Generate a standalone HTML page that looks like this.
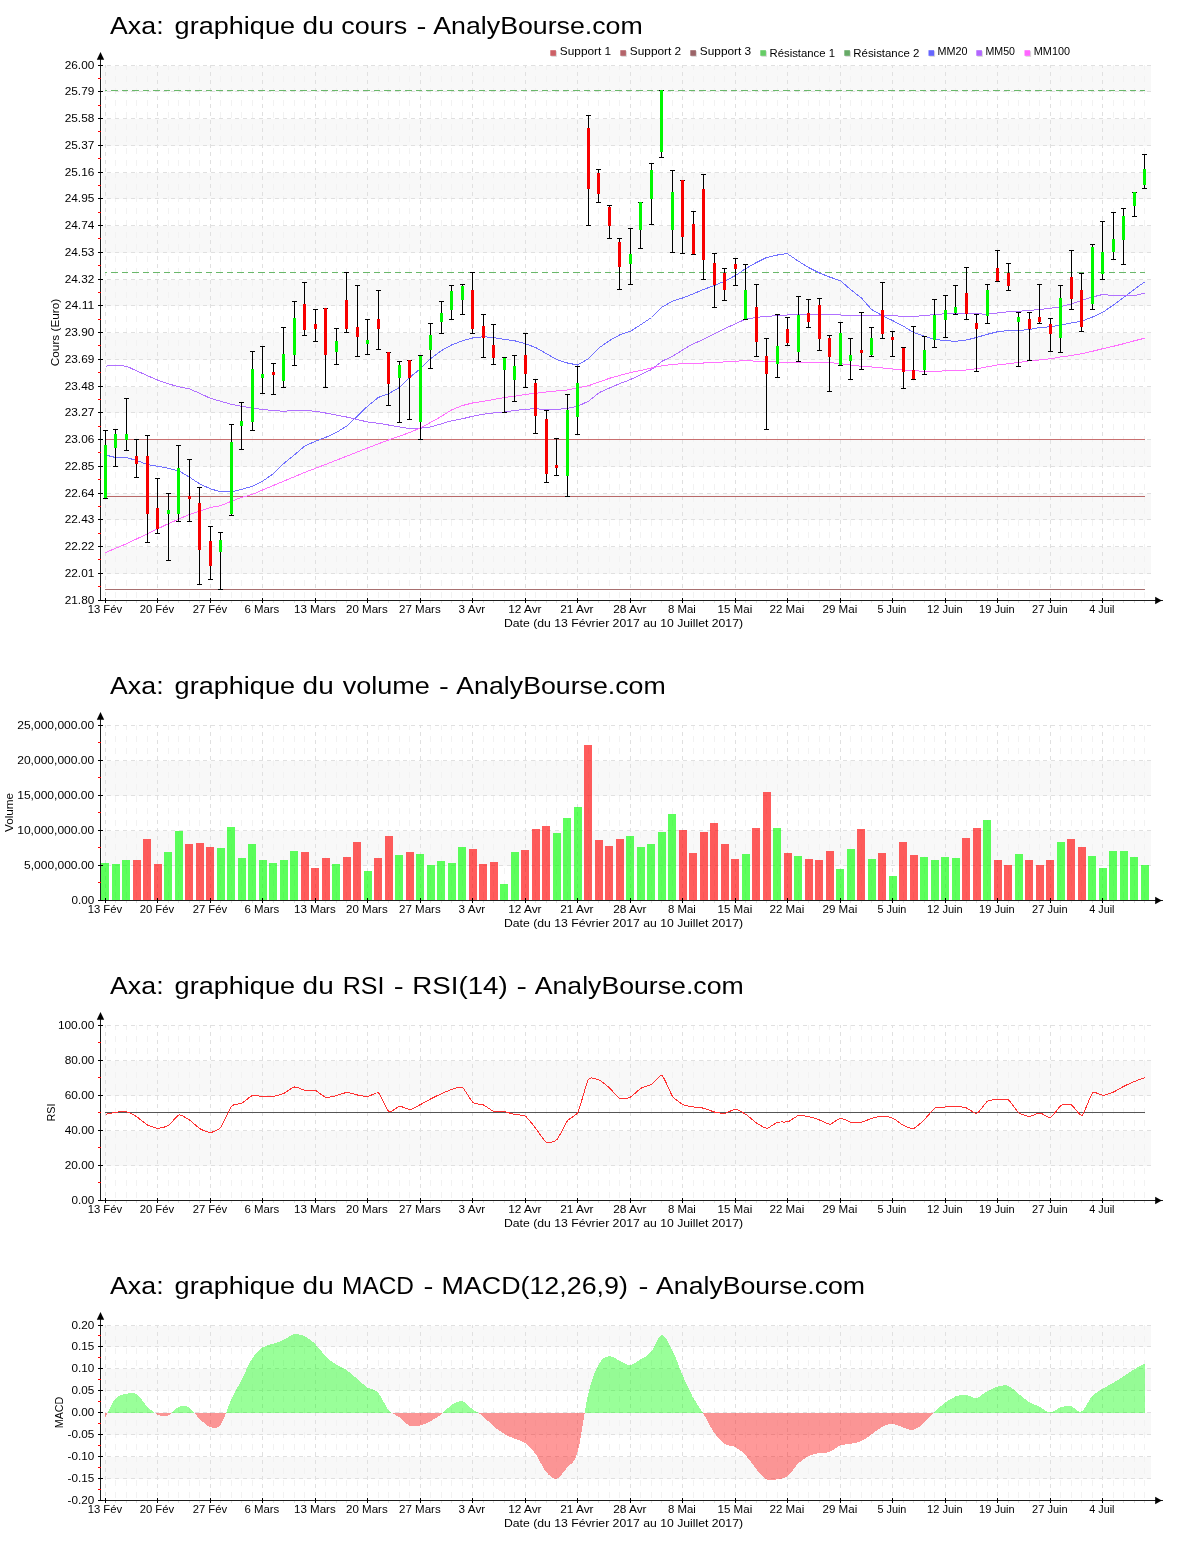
<!DOCTYPE html><html><head><meta charset="utf-8"><title>Axa</title>
<style>html,body{margin:0;padding:0;background:#fff}svg{display:block;will-change:transform}text{font-family:"Liberation Sans", sans-serif;font-size:11px;fill:#000}</style></head><body>
<svg width="1200" height="1550" viewBox="0 0 1200 1550">
<rect width="1200" height="1550" fill="#fff"/>
<text x="110.0" y="33.7" style="font-size:24.4px" textLength="53.6" lengthAdjust="spacingAndGlyphs">Axa:</text>
<text x="174.6" y="33.7" style="font-size:24.4px" textLength="120.4" lengthAdjust="spacingAndGlyphs">graphique</text>
<text x="302.6" y="33.7" style="font-size:24.4px" textLength="31.1" lengthAdjust="spacingAndGlyphs">du</text>
<text x="341.3" y="33.7" style="font-size:24.4px" textLength="65.9" lengthAdjust="spacingAndGlyphs">cours</text>
<text x="416.4" y="33.7" style="font-size:24.4px" textLength="9.9" lengthAdjust="spacingAndGlyphs">-</text>
<text x="433.3" y="33.7" style="font-size:24.4px" textLength="209.4" lengthAdjust="spacingAndGlyphs">AnalyBourse.com</text>
<rect x="102" y="66" width="1049" height="26" fill="#f8f8f8" shape-rendering="crispEdges"/>
<rect x="102" y="119" width="1049" height="27" fill="#f8f8f8" shape-rendering="crispEdges"/>
<rect x="102" y="173" width="1049" height="26" fill="#f8f8f8" shape-rendering="crispEdges"/>
<rect x="102" y="226" width="1049" height="27" fill="#f8f8f8" shape-rendering="crispEdges"/>
<rect x="102" y="280" width="1049" height="26" fill="#f8f8f8" shape-rendering="crispEdges"/>
<rect x="102" y="333" width="1049" height="27" fill="#f8f8f8" shape-rendering="crispEdges"/>
<rect x="102" y="387" width="1049" height="26" fill="#f8f8f8" shape-rendering="crispEdges"/>
<rect x="102" y="440" width="1049" height="27" fill="#f8f8f8" shape-rendering="crispEdges"/>
<rect x="102" y="494" width="1049" height="26" fill="#f8f8f8" shape-rendering="crispEdges"/>
<rect x="102" y="547" width="1049" height="27" fill="#f8f8f8" shape-rendering="crispEdges"/>
<path d="M115.5 65 V600 M126.5 65 V600 M136.5 65 V600 M147.5 65 V600 M168.5 65 V600 M178.5 65 V600 M189.5 65 V600 M199.5 65 V600 M220.5 65 V600 M231.5 65 V600 M241.5 65 V600 M252.5 65 V600 M273.5 65 V600 M283.5 65 V600 M294.5 65 V600 M304.5 65 V600 M325.5 65 V600 M336.5 65 V600 M346.5 65 V600 M357.5 65 V600 M378.5 65 V600 M388.5 65 V600 M399.5 65 V600 M409.5 65 V600 M430.5 65 V600 M441.5 65 V600 M451.5 65 V600 M462.5 65 V600 M483.5 65 V600 M493.5 65 V600 M504.5 65 V600 M514.5 65 V600 M535.5 65 V600 M546.5 65 V600 M556.5 65 V600 M567.5 65 V600 M588.5 65 V600 M598.5 65 V600 M609.5 65 V600 M619.5 65 V600 M640.5 65 V600 M651.5 65 V600 M661.5 65 V600 M672.5 65 V600 M693.5 65 V600 M703.5 65 V600 M714.5 65 V600 M724.5 65 V600 M745.5 65 V600 M756.5 65 V600 M766.5 65 V600 M777.5 65 V600 M798.5 65 V600 M808.5 65 V600 M819.5 65 V600 M829.5 65 V600 M850.5 65 V600 M861.5 65 V600 M871.5 65 V600 M882.5 65 V600 M903.5 65 V600 M913.5 65 V600 M924.5 65 V600 M934.5 65 V600 M955.5 65 V600 M966.5 65 V600 M976.5 65 V600 M987.5 65 V600 M1008.5 65 V600 M1018.5 65 V600 M1029.5 65 V600 M1039.5 65 V600 M1060.5 65 V600 M1071.5 65 V600 M1081.5 65 V600 M1092.5 65 V600 M1113.5 65 V600 M1123.5 65 V600 M1134.5 65 V600 M1144.5 65 V600" stroke="#f2f2f2" stroke-width="1" stroke-dasharray="6 6" stroke-dashoffset="1" fill="none" shape-rendering="crispEdges"/>
<path d="M105.5 65 V600 M157.5 65 V600 M210.5 65 V600 M262.5 65 V600 M315.5 65 V600 M367.5 65 V600 M420.5 65 V600 M472.5 65 V600 M525.5 65 V600 M577.5 65 V600 M630.5 65 V600 M682.5 65 V600 M735.5 65 V600 M787.5 65 V600 M840.5 65 V600 M892.5 65 V600 M945.5 65 V600 M997.5 65 V600 M1050.5 65 V600 M1102.5 65 V600" stroke="#e0e0e0" stroke-width="1" stroke-dasharray="4 4" stroke-dashoffset="1" fill="none" shape-rendering="crispEdges"/>
<path d="M103 65.5 H1151 M103 91.5 H1151 M103 118.5 H1151 M103 145.5 H1151 M103 172.5 H1151 M103 198.5 H1151 M103 225.5 H1151 M103 252.5 H1151 M103 279.5 H1151 M103 305.5 H1151 M103 332.5 H1151 M103 359.5 H1151 M103 386.5 H1151 M103 412.5 H1151 M103 439.5 H1151 M103 466.5 H1151 M103 493.5 H1151 M103 519.5 H1151 M103 546.5 H1151 M103 573.5 H1151" stroke="#e0e0e0" stroke-width="1" stroke-dasharray="4 4" stroke-dashoffset="4" fill="none" shape-rendering="crispEdges"/>
<g shape-rendering="crispEdges">
<rect x="105" y="439" width="1040" height="1" fill="#c87070"/>
<rect x="105" y="496" width="1040" height="1" fill="#b86868"/>
<rect x="105" y="589" width="1040" height="1" fill="#a87070"/>
</g>
<path d="M105 90.5 H1145" stroke="#6ab86a" stroke-width="1" stroke-dasharray="6.5 4" stroke-dashoffset="4.2" fill="none" shape-rendering="crispEdges"/>
<path d="M105 272.5 H1145" stroke="#6ab86a" stroke-width="1" stroke-dasharray="6.5 4" stroke-dashoffset="4.2" fill="none" shape-rendering="crispEdges"/>
<path d="M105.50 455.00 L115.50 457.50 L126.50 457.50 L136.50 460.50 L147.50 464.50 L157.50 466.25 L168.25 468.25 L178.50 470.75 L189.25 477.00 L199.50 483.75 L210.25 488.75 L220.50 491.75 L231.25 492.00 L241.50 489.50 L252.25 486.25 L262.50 481.25 L273.25 473.75 L283.50 463.75 L294.25 455.00 L304.50 446.25 L315.25 441.25 L325.50 437.50 L336.25 432.50 L346.50 426.25 L357.25 416.25 L367.50 406.25 L378.25 397.50 L388.50 393.75 L399.50 387.50 L409.50 377.50 L420.50 368.75 L430.50 358.75 L441.50 350.50 L451.50 345.00 L462.50 340.75 L472.50 338.00 L483.50 336.75 L493.50 337.50 L504.50 339.50 L514.50 340.75 L525.50 343.75 L535.50 347.50 L546.50 353.75 L556.50 359.50 L567.50 363.00 L577.50 365.00 L588.50 358.75 L599.50 347.50 L610.50 340.00 L619.50 335.00 L630.50 331.25 L641.00 324.50 L651.50 317.50 L662.00 307.00 L672.50 301.25 L682.50 298.00 L693.50 293.75 L703.50 289.50 L714.50 285.50 L724.50 281.25 L735.50 275.50 L745.50 268.75 L756.50 262.50 L766.50 257.50 L777.50 255.00 L787.00 253.50 L798.50 261.25 L808.50 267.50 L819.50 273.00 L829.50 277.00 L840.50 280.75 L850.50 289.50 L861.50 298.00 L871.50 309.50 L882.50 315.75 L892.50 320.50 L903.50 326.25 L913.50 332.50 L924.50 336.25 L934.50 339.25 L945.50 340.75 L955.50 341.25 L966.50 340.00 L976.50 337.50 L987.50 334.25 L997.50 331.75 L1008.50 330.50 L1018.50 330.50 L1029.50 329.50 L1039.50 327.50 L1050.50 326.75 L1060.50 325.00 L1071.50 323.00 L1081.50 321.25 L1092.50 317.00 L1102.50 312.50 L1113.50 305.00 L1123.50 297.50 L1134.50 289.25 L1144.50 282.00" stroke="#7070ff" stroke-width="1" fill="none" shape-rendering="crispEdges"/>
<path d="M105.50 366.25 L115.00 365.00 L126.50 366.25 L136.50 370.75 L147.50 375.75 L157.50 380.00 L168.25 383.75 L178.50 386.75 L189.25 388.75 L199.50 393.25 L210.25 398.25 L220.50 401.25 L231.25 404.25 L241.50 406.25 L252.25 408.00 L262.50 409.50 L273.25 410.50 L283.50 411.25 L294.25 410.50 L304.50 410.50 L315.25 411.25 L325.50 413.00 L336.25 415.00 L346.50 417.00 L357.25 419.50 L367.50 422.00 L378.25 423.25 L388.50 425.00 L399.50 427.00 L409.50 428.50 L420.50 428.25 L430.50 427.00 L441.50 423.75 L451.50 420.75 L462.50 418.75 L472.50 416.25 L483.50 414.25 L493.50 413.00 L504.50 412.00 L514.50 410.50 L525.50 409.25 L535.50 408.75 L546.50 409.50 L556.50 409.50 L567.50 408.25 L577.50 406.25 L588.50 401.25 L599.50 392.50 L610.50 387.50 L619.50 383.75 L630.50 379.50 L641.00 374.50 L651.50 369.50 L662.00 361.25 L672.50 356.25 L690.00 345.50 L703.50 339.25 L714.50 333.75 L724.50 328.75 L735.50 323.75 L745.50 319.25 L756.50 317.50 L766.50 316.25 L777.50 315.75 L787.50 315.00 L798.50 314.50 L808.50 314.25 L819.50 314.50 L829.50 314.50 L840.50 315.00 L850.50 315.50 L861.50 315.50 L871.50 315.50 L882.50 315.50 L892.50 315.75 L903.50 316.25 L913.50 316.25 L924.50 315.75 L934.50 314.50 L945.50 313.75 L955.50 313.25 L966.50 313.00 L976.50 313.75 L987.50 314.25 L997.50 313.00 L1008.50 311.75 L1018.50 311.25 L1029.50 310.50 L1039.50 309.50 L1050.50 308.25 L1060.50 306.75 L1071.50 303.75 L1081.50 300.50 L1092.50 297.00 L1102.50 294.50 L1113.50 295.50 L1123.50 295.75 L1134.50 295.50 L1144.50 293.25" stroke="#b070ff" stroke-width="1" fill="none" shape-rendering="crispEdges"/>
<path d="M105.50 552.50 L126.50 543.75 L147.50 533.75 L168.25 523.75 L189.25 514.50 L210.25 507.50 L220.50 505.75 L231.25 501.25 L241.50 497.50 L252.25 494.50 L262.50 490.00 L283.50 481.25 L304.50 472.50 L325.50 464.50 L346.50 456.25 L367.50 448.00 L388.50 440.00 L399.50 436.25 L409.50 432.50 L420.50 428.00 L430.50 422.50 L441.50 416.25 L451.50 410.00 L462.50 405.50 L472.50 403.00 L483.50 401.25 L493.50 399.50 L504.50 397.50 L514.50 396.25 L525.50 394.50 L535.50 393.25 L546.50 392.00 L556.50 391.00 L567.50 390.00 L577.50 388.00 L588.50 385.75 L599.50 381.75 L610.50 378.00 L619.50 375.50 L630.50 372.50 L641.00 370.50 L651.50 368.00 L662.00 365.75 L672.50 364.50 L683.00 363.50 L690.00 363.00 L703.50 363.00 L714.50 362.50 L735.50 361.25 L745.50 360.50 L756.50 361.25 L777.50 362.00 L798.50 362.00 L819.50 362.50 L829.50 362.50 L840.50 363.75 L850.50 365.00 L861.50 366.25 L871.50 367.00 L882.50 368.00 L892.50 369.00 L903.50 370.00 L913.50 370.75 L924.50 371.25 L934.50 371.50 L945.50 370.75 L955.50 370.25 L966.50 370.00 L976.50 368.75 L987.50 366.75 L997.50 365.00 L1008.50 363.75 L1018.50 362.50 L1029.50 360.75 L1039.50 360.00 L1050.50 358.75 L1060.50 357.00 L1071.50 355.50 L1081.50 353.75 L1092.50 351.25 L1102.50 348.75 L1113.50 346.25 L1123.50 343.75 L1134.50 340.75 L1144.50 338.25" stroke="#ff70ff" stroke-width="1" fill="none" shape-rendering="crispEdges"/>
<g shape-rendering="crispEdges">
<rect x="105" y="430" width="1" height="69" fill="#000"/>
<rect x="103" y="430" width="5" height="1" fill="#000"/>
<rect x="103" y="498" width="5" height="1" fill="#000"/>
<rect x="104" y="445" width="3" height="53" fill="#00f800"/>
<rect x="115" y="429" width="1" height="38" fill="#000"/>
<rect x="113" y="429" width="5" height="1" fill="#000"/>
<rect x="113" y="466" width="5" height="1" fill="#000"/>
<rect x="114" y="434" width="3" height="14" fill="#00f800"/>
<rect x="126" y="398" width="1" height="53" fill="#000"/>
<rect x="124" y="398" width="5" height="1" fill="#000"/>
<rect x="124" y="450" width="5" height="1" fill="#000"/>
<rect x="125" y="434" width="3" height="6" fill="#00f800"/>
<rect x="136" y="439" width="1" height="39" fill="#000"/>
<rect x="134" y="439" width="5" height="1" fill="#000"/>
<rect x="134" y="477" width="5" height="1" fill="#000"/>
<rect x="135" y="456" width="3" height="8" fill="#f80000"/>
<rect x="147" y="435" width="1" height="108" fill="#000"/>
<rect x="145" y="435" width="5" height="1" fill="#000"/>
<rect x="145" y="542" width="5" height="1" fill="#000"/>
<rect x="146" y="456" width="3" height="58" fill="#f80000"/>
<rect x="157" y="478" width="1" height="56" fill="#000"/>
<rect x="155" y="478" width="5" height="1" fill="#000"/>
<rect x="155" y="533" width="5" height="1" fill="#000"/>
<rect x="156" y="508" width="3" height="21" fill="#f80000"/>
<rect x="168" y="493" width="1" height="68" fill="#000"/>
<rect x="166" y="493" width="5" height="1" fill="#000"/>
<rect x="166" y="560" width="5" height="1" fill="#000"/>
<rect x="167" y="510" width="3" height="4" fill="#00f800"/>
<rect x="178" y="445" width="1" height="77" fill="#000"/>
<rect x="176" y="445" width="5" height="1" fill="#000"/>
<rect x="176" y="521" width="5" height="1" fill="#000"/>
<rect x="177" y="468" width="3" height="46" fill="#00f800"/>
<rect x="189" y="459" width="1" height="63" fill="#000"/>
<rect x="187" y="459" width="5" height="1" fill="#000"/>
<rect x="187" y="521" width="5" height="1" fill="#000"/>
<rect x="188" y="496" width="3" height="3" fill="#f80000"/>
<rect x="199" y="487" width="1" height="98" fill="#000"/>
<rect x="197" y="487" width="5" height="1" fill="#000"/>
<rect x="197" y="584" width="5" height="1" fill="#000"/>
<rect x="198" y="503" width="3" height="47" fill="#f80000"/>
<rect x="210" y="526" width="1" height="54" fill="#000"/>
<rect x="208" y="526" width="5" height="1" fill="#000"/>
<rect x="208" y="579" width="5" height="1" fill="#000"/>
<rect x="209" y="541" width="3" height="25" fill="#f80000"/>
<rect x="220" y="532" width="1" height="58" fill="#000"/>
<rect x="218" y="532" width="5" height="1" fill="#000"/>
<rect x="218" y="589" width="5" height="1" fill="#000"/>
<rect x="219" y="540" width="3" height="12" fill="#00f800"/>
<rect x="231" y="424" width="1" height="92" fill="#000"/>
<rect x="229" y="424" width="5" height="1" fill="#000"/>
<rect x="229" y="515" width="5" height="1" fill="#000"/>
<rect x="230" y="442" width="3" height="72" fill="#00f800"/>
<rect x="241" y="402" width="1" height="48" fill="#000"/>
<rect x="239" y="402" width="5" height="1" fill="#000"/>
<rect x="239" y="449" width="5" height="1" fill="#000"/>
<rect x="240" y="421" width="3" height="5" fill="#00f800"/>
<rect x="252" y="351" width="1" height="80" fill="#000"/>
<rect x="250" y="351" width="5" height="1" fill="#000"/>
<rect x="250" y="430" width="5" height="1" fill="#000"/>
<rect x="251" y="369" width="3" height="53" fill="#00f800"/>
<rect x="262" y="346" width="1" height="48" fill="#000"/>
<rect x="260" y="346" width="5" height="1" fill="#000"/>
<rect x="260" y="393" width="5" height="1" fill="#000"/>
<rect x="261" y="374" width="3" height="4" fill="#00f800"/>
<rect x="273" y="363" width="1" height="32" fill="#000"/>
<rect x="271" y="363" width="5" height="1" fill="#000"/>
<rect x="271" y="394" width="5" height="1" fill="#000"/>
<rect x="272" y="372" width="3" height="3" fill="#f80000"/>
<rect x="283" y="327" width="1" height="61" fill="#000"/>
<rect x="281" y="327" width="5" height="1" fill="#000"/>
<rect x="281" y="387" width="5" height="1" fill="#000"/>
<rect x="282" y="354" width="3" height="27" fill="#00f800"/>
<rect x="294" y="301" width="1" height="65" fill="#000"/>
<rect x="292" y="301" width="5" height="1" fill="#000"/>
<rect x="292" y="365" width="5" height="1" fill="#000"/>
<rect x="293" y="318" width="3" height="37" fill="#00f800"/>
<rect x="304" y="282" width="1" height="54" fill="#000"/>
<rect x="302" y="282" width="5" height="1" fill="#000"/>
<rect x="302" y="335" width="5" height="1" fill="#000"/>
<rect x="303" y="304" width="3" height="26" fill="#f80000"/>
<rect x="315" y="309" width="1" height="33" fill="#000"/>
<rect x="313" y="309" width="5" height="1" fill="#000"/>
<rect x="313" y="341" width="5" height="1" fill="#000"/>
<rect x="314" y="324" width="3" height="5" fill="#f80000"/>
<rect x="325" y="308" width="1" height="80" fill="#000"/>
<rect x="323" y="308" width="5" height="1" fill="#000"/>
<rect x="323" y="387" width="5" height="1" fill="#000"/>
<rect x="324" y="308" width="3" height="47" fill="#f80000"/>
<rect x="336" y="328" width="1" height="37" fill="#000"/>
<rect x="334" y="328" width="5" height="1" fill="#000"/>
<rect x="334" y="364" width="5" height="1" fill="#000"/>
<rect x="335" y="341" width="3" height="11" fill="#00f800"/>
<rect x="346" y="272" width="1" height="61" fill="#000"/>
<rect x="344" y="272" width="5" height="1" fill="#000"/>
<rect x="344" y="332" width="5" height="1" fill="#000"/>
<rect x="345" y="300" width="3" height="29" fill="#f80000"/>
<rect x="357" y="285" width="1" height="72" fill="#000"/>
<rect x="355" y="285" width="5" height="1" fill="#000"/>
<rect x="355" y="356" width="5" height="1" fill="#000"/>
<rect x="356" y="327" width="3" height="10" fill="#f80000"/>
<rect x="367" y="319" width="1" height="36" fill="#000"/>
<rect x="365" y="319" width="5" height="1" fill="#000"/>
<rect x="365" y="354" width="5" height="1" fill="#000"/>
<rect x="366" y="340" width="3" height="4" fill="#00f800"/>
<rect x="378" y="290" width="1" height="60" fill="#000"/>
<rect x="376" y="290" width="5" height="1" fill="#000"/>
<rect x="376" y="349" width="5" height="1" fill="#000"/>
<rect x="377" y="319" width="3" height="10" fill="#f80000"/>
<rect x="388" y="352" width="1" height="54" fill="#000"/>
<rect x="386" y="352" width="5" height="1" fill="#000"/>
<rect x="386" y="405" width="5" height="1" fill="#000"/>
<rect x="387" y="352" width="3" height="32" fill="#f80000"/>
<rect x="399" y="361" width="1" height="62" fill="#000"/>
<rect x="397" y="361" width="5" height="1" fill="#000"/>
<rect x="397" y="422" width="5" height="1" fill="#000"/>
<rect x="398" y="365" width="3" height="13" fill="#00f800"/>
<rect x="409" y="360" width="1" height="60" fill="#000"/>
<rect x="407" y="360" width="5" height="1" fill="#000"/>
<rect x="407" y="419" width="5" height="1" fill="#000"/>
<rect x="408" y="360" width="3" height="18" fill="#f80000"/>
<rect x="420" y="355" width="1" height="85" fill="#000"/>
<rect x="418" y="355" width="5" height="1" fill="#000"/>
<rect x="418" y="439" width="5" height="1" fill="#000"/>
<rect x="419" y="356" width="3" height="66" fill="#00f800"/>
<rect x="430" y="323" width="1" height="46" fill="#000"/>
<rect x="428" y="323" width="5" height="1" fill="#000"/>
<rect x="428" y="368" width="5" height="1" fill="#000"/>
<rect x="429" y="335" width="3" height="15" fill="#00f800"/>
<rect x="441" y="301" width="1" height="33" fill="#000"/>
<rect x="439" y="301" width="5" height="1" fill="#000"/>
<rect x="439" y="333" width="5" height="1" fill="#000"/>
<rect x="440" y="313" width="3" height="9" fill="#00f800"/>
<rect x="451" y="285" width="1" height="35" fill="#000"/>
<rect x="449" y="285" width="5" height="1" fill="#000"/>
<rect x="449" y="319" width="5" height="1" fill="#000"/>
<rect x="450" y="291" width="3" height="19" fill="#00f800"/>
<rect x="462" y="284" width="1" height="31" fill="#000"/>
<rect x="460" y="284" width="5" height="1" fill="#000"/>
<rect x="460" y="314" width="5" height="1" fill="#000"/>
<rect x="461" y="286" width="3" height="14" fill="#00f800"/>
<rect x="472" y="272" width="1" height="62" fill="#000"/>
<rect x="470" y="272" width="5" height="1" fill="#000"/>
<rect x="470" y="333" width="5" height="1" fill="#000"/>
<rect x="471" y="290" width="3" height="39" fill="#f80000"/>
<rect x="483" y="314" width="1" height="44" fill="#000"/>
<rect x="481" y="314" width="5" height="1" fill="#000"/>
<rect x="481" y="357" width="5" height="1" fill="#000"/>
<rect x="482" y="326" width="3" height="12" fill="#f80000"/>
<rect x="493" y="324" width="1" height="41" fill="#000"/>
<rect x="491" y="324" width="5" height="1" fill="#000"/>
<rect x="491" y="364" width="5" height="1" fill="#000"/>
<rect x="492" y="345" width="3" height="13" fill="#f80000"/>
<rect x="504" y="357" width="1" height="56" fill="#000"/>
<rect x="502" y="357" width="5" height="1" fill="#000"/>
<rect x="502" y="412" width="5" height="1" fill="#000"/>
<rect x="503" y="358" width="3" height="12" fill="#00f800"/>
<rect x="514" y="355" width="1" height="47" fill="#000"/>
<rect x="512" y="355" width="5" height="1" fill="#000"/>
<rect x="512" y="401" width="5" height="1" fill="#000"/>
<rect x="513" y="366" width="3" height="14" fill="#00f800"/>
<rect x="525" y="333" width="1" height="55" fill="#000"/>
<rect x="523" y="333" width="5" height="1" fill="#000"/>
<rect x="523" y="387" width="5" height="1" fill="#000"/>
<rect x="524" y="355" width="3" height="19" fill="#f80000"/>
<rect x="535" y="379" width="1" height="55" fill="#000"/>
<rect x="533" y="379" width="5" height="1" fill="#000"/>
<rect x="533" y="433" width="5" height="1" fill="#000"/>
<rect x="534" y="383" width="3" height="33" fill="#f80000"/>
<rect x="546" y="410" width="1" height="73" fill="#000"/>
<rect x="544" y="410" width="5" height="1" fill="#000"/>
<rect x="544" y="482" width="5" height="1" fill="#000"/>
<rect x="545" y="419" width="3" height="55" fill="#f80000"/>
<rect x="556" y="438" width="1" height="38" fill="#000"/>
<rect x="554" y="438" width="5" height="1" fill="#000"/>
<rect x="554" y="475" width="5" height="1" fill="#000"/>
<rect x="555" y="465" width="3" height="3" fill="#f80000"/>
<rect x="567" y="394" width="1" height="103" fill="#000"/>
<rect x="565" y="394" width="5" height="1" fill="#000"/>
<rect x="565" y="496" width="5" height="1" fill="#000"/>
<rect x="566" y="410" width="3" height="66" fill="#00f800"/>
<rect x="577" y="366" width="1" height="69" fill="#000"/>
<rect x="575" y="366" width="5" height="1" fill="#000"/>
<rect x="575" y="434" width="5" height="1" fill="#000"/>
<rect x="576" y="383" width="3" height="34" fill="#00f800"/>
<rect x="588" y="115" width="1" height="111" fill="#000"/>
<rect x="586" y="115" width="5" height="1" fill="#000"/>
<rect x="586" y="225" width="5" height="1" fill="#000"/>
<rect x="587" y="128" width="3" height="61" fill="#f80000"/>
<rect x="598" y="169" width="1" height="34" fill="#000"/>
<rect x="596" y="169" width="5" height="1" fill="#000"/>
<rect x="596" y="202" width="5" height="1" fill="#000"/>
<rect x="597" y="173" width="3" height="21" fill="#f80000"/>
<rect x="609" y="205" width="1" height="34" fill="#000"/>
<rect x="607" y="205" width="5" height="1" fill="#000"/>
<rect x="607" y="238" width="5" height="1" fill="#000"/>
<rect x="608" y="207" width="3" height="19" fill="#f80000"/>
<rect x="619" y="238" width="1" height="52" fill="#000"/>
<rect x="617" y="238" width="5" height="1" fill="#000"/>
<rect x="617" y="289" width="5" height="1" fill="#000"/>
<rect x="618" y="242" width="3" height="25" fill="#f80000"/>
<rect x="630" y="228" width="1" height="57" fill="#000"/>
<rect x="628" y="228" width="5" height="1" fill="#000"/>
<rect x="628" y="284" width="5" height="1" fill="#000"/>
<rect x="629" y="254" width="3" height="10" fill="#00f800"/>
<rect x="640" y="202" width="1" height="47" fill="#000"/>
<rect x="638" y="202" width="5" height="1" fill="#000"/>
<rect x="638" y="248" width="5" height="1" fill="#000"/>
<rect x="639" y="202" width="3" height="28" fill="#00f800"/>
<rect x="651" y="163" width="1" height="62" fill="#000"/>
<rect x="649" y="163" width="5" height="1" fill="#000"/>
<rect x="649" y="224" width="5" height="1" fill="#000"/>
<rect x="650" y="170" width="3" height="29" fill="#00f800"/>
<rect x="661" y="90" width="1" height="68" fill="#000"/>
<rect x="659" y="90" width="5" height="1" fill="#000"/>
<rect x="659" y="157" width="5" height="1" fill="#000"/>
<rect x="660" y="90" width="3" height="62" fill="#00f800"/>
<rect x="672" y="170" width="1" height="83" fill="#000"/>
<rect x="670" y="170" width="5" height="1" fill="#000"/>
<rect x="670" y="252" width="5" height="1" fill="#000"/>
<rect x="671" y="192" width="3" height="38" fill="#00f800"/>
<rect x="682" y="180" width="1" height="74" fill="#000"/>
<rect x="680" y="180" width="5" height="1" fill="#000"/>
<rect x="680" y="253" width="5" height="1" fill="#000"/>
<rect x="681" y="180" width="3" height="57" fill="#f80000"/>
<rect x="693" y="211" width="1" height="44" fill="#000"/>
<rect x="691" y="211" width="5" height="1" fill="#000"/>
<rect x="691" y="254" width="5" height="1" fill="#000"/>
<rect x="692" y="224" width="3" height="30" fill="#f80000"/>
<rect x="703" y="174" width="1" height="106" fill="#000"/>
<rect x="701" y="174" width="5" height="1" fill="#000"/>
<rect x="701" y="279" width="5" height="1" fill="#000"/>
<rect x="702" y="189" width="3" height="71" fill="#f80000"/>
<rect x="714" y="253" width="1" height="55" fill="#000"/>
<rect x="712" y="253" width="5" height="1" fill="#000"/>
<rect x="712" y="307" width="5" height="1" fill="#000"/>
<rect x="713" y="263" width="3" height="22" fill="#f80000"/>
<rect x="724" y="268" width="1" height="33" fill="#000"/>
<rect x="722" y="268" width="5" height="1" fill="#000"/>
<rect x="722" y="300" width="5" height="1" fill="#000"/>
<rect x="723" y="273" width="3" height="17" fill="#f80000"/>
<rect x="735" y="258" width="1" height="28" fill="#000"/>
<rect x="733" y="258" width="5" height="1" fill="#000"/>
<rect x="733" y="285" width="5" height="1" fill="#000"/>
<rect x="734" y="264" width="3" height="5" fill="#f80000"/>
<rect x="745" y="264" width="1" height="56" fill="#000"/>
<rect x="743" y="264" width="5" height="1" fill="#000"/>
<rect x="743" y="319" width="5" height="1" fill="#000"/>
<rect x="744" y="290" width="3" height="29" fill="#00f800"/>
<rect x="756" y="284" width="1" height="73" fill="#000"/>
<rect x="754" y="284" width="5" height="1" fill="#000"/>
<rect x="754" y="356" width="5" height="1" fill="#000"/>
<rect x="755" y="307" width="3" height="35" fill="#f80000"/>
<rect x="766" y="338" width="1" height="92" fill="#000"/>
<rect x="764" y="338" width="5" height="1" fill="#000"/>
<rect x="764" y="429" width="5" height="1" fill="#000"/>
<rect x="765" y="356" width="3" height="18" fill="#f80000"/>
<rect x="777" y="314" width="1" height="64" fill="#000"/>
<rect x="775" y="314" width="5" height="1" fill="#000"/>
<rect x="775" y="377" width="5" height="1" fill="#000"/>
<rect x="776" y="346" width="3" height="18" fill="#00f800"/>
<rect x="787" y="317" width="1" height="29" fill="#000"/>
<rect x="785" y="317" width="5" height="1" fill="#000"/>
<rect x="785" y="345" width="5" height="1" fill="#000"/>
<rect x="786" y="329" width="3" height="14" fill="#f80000"/>
<rect x="798" y="296" width="1" height="66" fill="#000"/>
<rect x="796" y="296" width="5" height="1" fill="#000"/>
<rect x="796" y="361" width="5" height="1" fill="#000"/>
<rect x="797" y="315" width="3" height="37" fill="#00f800"/>
<rect x="808" y="299" width="1" height="29" fill="#000"/>
<rect x="806" y="299" width="5" height="1" fill="#000"/>
<rect x="806" y="327" width="5" height="1" fill="#000"/>
<rect x="807" y="313" width="3" height="9" fill="#f80000"/>
<rect x="819" y="298" width="1" height="53" fill="#000"/>
<rect x="817" y="298" width="5" height="1" fill="#000"/>
<rect x="817" y="350" width="5" height="1" fill="#000"/>
<rect x="818" y="305" width="3" height="34" fill="#f80000"/>
<rect x="829" y="335" width="1" height="57" fill="#000"/>
<rect x="827" y="335" width="5" height="1" fill="#000"/>
<rect x="827" y="391" width="5" height="1" fill="#000"/>
<rect x="828" y="338" width="3" height="19" fill="#f80000"/>
<rect x="840" y="322" width="1" height="44" fill="#000"/>
<rect x="838" y="322" width="5" height="1" fill="#000"/>
<rect x="838" y="365" width="5" height="1" fill="#000"/>
<rect x="839" y="333" width="3" height="32" fill="#00f800"/>
<rect x="850" y="338" width="1" height="42" fill="#000"/>
<rect x="848" y="338" width="5" height="1" fill="#000"/>
<rect x="848" y="379" width="5" height="1" fill="#000"/>
<rect x="849" y="355" width="3" height="6" fill="#00f800"/>
<rect x="861" y="312" width="1" height="58" fill="#000"/>
<rect x="859" y="312" width="5" height="1" fill="#000"/>
<rect x="859" y="369" width="5" height="1" fill="#000"/>
<rect x="860" y="350" width="3" height="3" fill="#f80000"/>
<rect x="871" y="327" width="1" height="30" fill="#000"/>
<rect x="869" y="327" width="5" height="1" fill="#000"/>
<rect x="869" y="356" width="5" height="1" fill="#000"/>
<rect x="870" y="338" width="3" height="17" fill="#00f800"/>
<rect x="882" y="282" width="1" height="57" fill="#000"/>
<rect x="880" y="282" width="5" height="1" fill="#000"/>
<rect x="880" y="338" width="5" height="1" fill="#000"/>
<rect x="881" y="310" width="3" height="24" fill="#f80000"/>
<rect x="892" y="331" width="1" height="26" fill="#000"/>
<rect x="890" y="331" width="5" height="1" fill="#000"/>
<rect x="890" y="356" width="5" height="1" fill="#000"/>
<rect x="891" y="337" width="3" height="3" fill="#f80000"/>
<rect x="903" y="347" width="1" height="42" fill="#000"/>
<rect x="901" y="347" width="5" height="1" fill="#000"/>
<rect x="901" y="388" width="5" height="1" fill="#000"/>
<rect x="902" y="348" width="3" height="24" fill="#f80000"/>
<rect x="913" y="326" width="1" height="54" fill="#000"/>
<rect x="911" y="326" width="5" height="1" fill="#000"/>
<rect x="911" y="379" width="5" height="1" fill="#000"/>
<rect x="912" y="370" width="3" height="9" fill="#f80000"/>
<rect x="924" y="336" width="1" height="39" fill="#000"/>
<rect x="922" y="336" width="5" height="1" fill="#000"/>
<rect x="922" y="374" width="5" height="1" fill="#000"/>
<rect x="923" y="350" width="3" height="20" fill="#00f800"/>
<rect x="934" y="299" width="1" height="49" fill="#000"/>
<rect x="932" y="299" width="5" height="1" fill="#000"/>
<rect x="932" y="347" width="5" height="1" fill="#000"/>
<rect x="933" y="315" width="3" height="25" fill="#00f800"/>
<rect x="945" y="295" width="1" height="43" fill="#000"/>
<rect x="943" y="295" width="5" height="1" fill="#000"/>
<rect x="943" y="337" width="5" height="1" fill="#000"/>
<rect x="944" y="310" width="3" height="10" fill="#00f800"/>
<rect x="955" y="285" width="1" height="30" fill="#000"/>
<rect x="953" y="285" width="5" height="1" fill="#000"/>
<rect x="953" y="314" width="5" height="1" fill="#000"/>
<rect x="954" y="307" width="3" height="6" fill="#00f800"/>
<rect x="966" y="267" width="1" height="53" fill="#000"/>
<rect x="964" y="267" width="5" height="1" fill="#000"/>
<rect x="964" y="319" width="5" height="1" fill="#000"/>
<rect x="965" y="293" width="3" height="21" fill="#f80000"/>
<rect x="976" y="314" width="1" height="58" fill="#000"/>
<rect x="974" y="314" width="5" height="1" fill="#000"/>
<rect x="974" y="371" width="5" height="1" fill="#000"/>
<rect x="975" y="323" width="3" height="6" fill="#f80000"/>
<rect x="987" y="284" width="1" height="40" fill="#000"/>
<rect x="985" y="284" width="5" height="1" fill="#000"/>
<rect x="985" y="323" width="5" height="1" fill="#000"/>
<rect x="986" y="290" width="3" height="26" fill="#00f800"/>
<rect x="997" y="250" width="1" height="32" fill="#000"/>
<rect x="995" y="250" width="5" height="1" fill="#000"/>
<rect x="995" y="281" width="5" height="1" fill="#000"/>
<rect x="996" y="268" width="3" height="13" fill="#f80000"/>
<rect x="1008" y="263" width="1" height="28" fill="#000"/>
<rect x="1006" y="263" width="5" height="1" fill="#000"/>
<rect x="1006" y="290" width="5" height="1" fill="#000"/>
<rect x="1007" y="273" width="3" height="13" fill="#f80000"/>
<rect x="1018" y="312" width="1" height="55" fill="#000"/>
<rect x="1016" y="312" width="5" height="1" fill="#000"/>
<rect x="1016" y="366" width="5" height="1" fill="#000"/>
<rect x="1017" y="317" width="3" height="5" fill="#00f800"/>
<rect x="1029" y="312" width="1" height="49" fill="#000"/>
<rect x="1027" y="312" width="5" height="1" fill="#000"/>
<rect x="1027" y="360" width="5" height="1" fill="#000"/>
<rect x="1028" y="319" width="3" height="10" fill="#f80000"/>
<rect x="1039" y="284" width="1" height="40" fill="#000"/>
<rect x="1037" y="284" width="5" height="1" fill="#000"/>
<rect x="1037" y="323" width="5" height="1" fill="#000"/>
<rect x="1038" y="317" width="3" height="5" fill="#f80000"/>
<rect x="1050" y="318" width="1" height="34" fill="#000"/>
<rect x="1048" y="318" width="5" height="1" fill="#000"/>
<rect x="1048" y="351" width="5" height="1" fill="#000"/>
<rect x="1049" y="324" width="3" height="10" fill="#f80000"/>
<rect x="1060" y="285" width="1" height="68" fill="#000"/>
<rect x="1058" y="285" width="5" height="1" fill="#000"/>
<rect x="1058" y="352" width="5" height="1" fill="#000"/>
<rect x="1059" y="298" width="3" height="40" fill="#00f800"/>
<rect x="1071" y="250" width="1" height="60" fill="#000"/>
<rect x="1069" y="250" width="5" height="1" fill="#000"/>
<rect x="1069" y="309" width="5" height="1" fill="#000"/>
<rect x="1070" y="277" width="3" height="22" fill="#f80000"/>
<rect x="1081" y="273" width="1" height="59" fill="#000"/>
<rect x="1079" y="273" width="5" height="1" fill="#000"/>
<rect x="1079" y="331" width="5" height="1" fill="#000"/>
<rect x="1080" y="290" width="3" height="37" fill="#f80000"/>
<rect x="1092" y="244" width="1" height="66" fill="#000"/>
<rect x="1090" y="244" width="5" height="1" fill="#000"/>
<rect x="1090" y="309" width="5" height="1" fill="#000"/>
<rect x="1091" y="247" width="3" height="57" fill="#00f800"/>
<rect x="1102" y="221" width="1" height="59" fill="#000"/>
<rect x="1100" y="221" width="5" height="1" fill="#000"/>
<rect x="1100" y="279" width="5" height="1" fill="#000"/>
<rect x="1101" y="252" width="3" height="22" fill="#00f800"/>
<rect x="1113" y="212" width="1" height="48" fill="#000"/>
<rect x="1111" y="212" width="5" height="1" fill="#000"/>
<rect x="1111" y="259" width="5" height="1" fill="#000"/>
<rect x="1112" y="239" width="3" height="13" fill="#00f800"/>
<rect x="1123" y="208" width="1" height="57" fill="#000"/>
<rect x="1121" y="208" width="5" height="1" fill="#000"/>
<rect x="1121" y="264" width="5" height="1" fill="#000"/>
<rect x="1122" y="216" width="3" height="24" fill="#00f800"/>
<rect x="1134" y="192" width="1" height="25" fill="#000"/>
<rect x="1132" y="192" width="5" height="1" fill="#000"/>
<rect x="1132" y="216" width="5" height="1" fill="#000"/>
<rect x="1133" y="192" width="3" height="14" fill="#00f800"/>
<rect x="1144" y="154" width="1" height="35" fill="#000"/>
<rect x="1142" y="154" width="5" height="1" fill="#000"/>
<rect x="1142" y="188" width="5" height="1" fill="#000"/>
<rect x="1143" y="169" width="3" height="16" fill="#00f800"/>
</g>
<g shape-rendering="crispEdges" fill="#000">
<rect x="100" y="55" width="1" height="546" fill="#1c1c1c"/>
<rect x="100" y="600" width="1063" height="1" fill="#1c1c1c"/>
<rect x="98" y="65" width="5" height="1"/>
<rect x="98" y="91" width="5" height="1"/>
<rect x="98" y="118" width="5" height="1"/>
<rect x="98" y="145" width="5" height="1"/>
<rect x="98" y="172" width="5" height="1"/>
<rect x="98" y="198" width="5" height="1"/>
<rect x="98" y="225" width="5" height="1"/>
<rect x="98" y="252" width="5" height="1"/>
<rect x="98" y="279" width="5" height="1"/>
<rect x="98" y="305" width="5" height="1"/>
<rect x="98" y="332" width="5" height="1"/>
<rect x="98" y="359" width="5" height="1"/>
<rect x="98" y="386" width="5" height="1"/>
<rect x="98" y="412" width="5" height="1"/>
<rect x="98" y="439" width="5" height="1"/>
<rect x="98" y="466" width="5" height="1"/>
<rect x="98" y="493" width="5" height="1"/>
<rect x="98" y="519" width="5" height="1"/>
<rect x="98" y="546" width="5" height="1"/>
<rect x="98" y="573" width="5" height="1"/>
<rect x="98" y="600" width="5" height="1"/>
<rect x="98" y="78" width="3" height="1" fill="#f00"/>
<rect x="98" y="105" width="3" height="1" fill="#f00"/>
<rect x="98" y="131" width="3" height="1" fill="#f00"/>
<rect x="98" y="158" width="3" height="1" fill="#f00"/>
<rect x="98" y="185" width="3" height="1" fill="#f00"/>
<rect x="98" y="212" width="3" height="1" fill="#f00"/>
<rect x="98" y="238" width="3" height="1" fill="#f00"/>
<rect x="98" y="265" width="3" height="1" fill="#f00"/>
<rect x="98" y="292" width="3" height="1" fill="#f00"/>
<rect x="98" y="319" width="3" height="1" fill="#f00"/>
<rect x="98" y="345" width="3" height="1" fill="#f00"/>
<rect x="98" y="372" width="3" height="1" fill="#f00"/>
<rect x="98" y="399" width="3" height="1" fill="#f00"/>
<rect x="98" y="426" width="3" height="1" fill="#f00"/>
<rect x="98" y="452" width="3" height="1" fill="#f00"/>
<rect x="98" y="479" width="3" height="1" fill="#f00"/>
<rect x="98" y="506" width="3" height="1" fill="#f00"/>
<rect x="98" y="533" width="3" height="1" fill="#f00"/>
<rect x="98" y="559" width="3" height="1" fill="#f00"/>
<rect x="98" y="586" width="3" height="1" fill="#f00"/>
<rect x="105" y="598" width="1" height="5"/>
<rect x="115" y="601" width="1" height="2" fill="#ddd"/>
<rect x="126" y="601" width="1" height="2" fill="#ddd"/>
<rect x="136" y="601" width="1" height="2" fill="#ddd"/>
<rect x="147" y="601" width="1" height="2" fill="#ddd"/>
<rect x="157" y="598" width="1" height="5"/>
<rect x="168" y="601" width="1" height="2" fill="#ddd"/>
<rect x="178" y="601" width="1" height="2" fill="#ddd"/>
<rect x="189" y="601" width="1" height="2" fill="#ddd"/>
<rect x="199" y="601" width="1" height="2" fill="#ddd"/>
<rect x="210" y="598" width="1" height="5"/>
<rect x="220" y="601" width="1" height="2" fill="#ddd"/>
<rect x="231" y="601" width="1" height="2" fill="#ddd"/>
<rect x="241" y="601" width="1" height="2" fill="#ddd"/>
<rect x="252" y="601" width="1" height="2" fill="#ddd"/>
<rect x="262" y="598" width="1" height="5"/>
<rect x="273" y="601" width="1" height="2" fill="#ddd"/>
<rect x="283" y="601" width="1" height="2" fill="#ddd"/>
<rect x="294" y="601" width="1" height="2" fill="#ddd"/>
<rect x="304" y="601" width="1" height="2" fill="#ddd"/>
<rect x="315" y="598" width="1" height="5"/>
<rect x="325" y="601" width="1" height="2" fill="#ddd"/>
<rect x="336" y="601" width="1" height="2" fill="#ddd"/>
<rect x="346" y="601" width="1" height="2" fill="#ddd"/>
<rect x="357" y="601" width="1" height="2" fill="#ddd"/>
<rect x="367" y="598" width="1" height="5"/>
<rect x="378" y="601" width="1" height="2" fill="#ddd"/>
<rect x="388" y="601" width="1" height="2" fill="#ddd"/>
<rect x="399" y="601" width="1" height="2" fill="#ddd"/>
<rect x="409" y="601" width="1" height="2" fill="#ddd"/>
<rect x="420" y="598" width="1" height="5"/>
<rect x="430" y="601" width="1" height="2" fill="#ddd"/>
<rect x="441" y="601" width="1" height="2" fill="#ddd"/>
<rect x="451" y="601" width="1" height="2" fill="#ddd"/>
<rect x="462" y="601" width="1" height="2" fill="#ddd"/>
<rect x="472" y="598" width="1" height="5"/>
<rect x="483" y="601" width="1" height="2" fill="#ddd"/>
<rect x="493" y="601" width="1" height="2" fill="#ddd"/>
<rect x="504" y="601" width="1" height="2" fill="#ddd"/>
<rect x="514" y="601" width="1" height="2" fill="#ddd"/>
<rect x="525" y="598" width="1" height="5"/>
<rect x="535" y="601" width="1" height="2" fill="#ddd"/>
<rect x="546" y="601" width="1" height="2" fill="#ddd"/>
<rect x="556" y="601" width="1" height="2" fill="#ddd"/>
<rect x="567" y="601" width="1" height="2" fill="#ddd"/>
<rect x="577" y="598" width="1" height="5"/>
<rect x="588" y="601" width="1" height="2" fill="#ddd"/>
<rect x="598" y="601" width="1" height="2" fill="#ddd"/>
<rect x="609" y="601" width="1" height="2" fill="#ddd"/>
<rect x="619" y="601" width="1" height="2" fill="#ddd"/>
<rect x="630" y="598" width="1" height="5"/>
<rect x="640" y="601" width="1" height="2" fill="#ddd"/>
<rect x="651" y="601" width="1" height="2" fill="#ddd"/>
<rect x="661" y="601" width="1" height="2" fill="#ddd"/>
<rect x="672" y="601" width="1" height="2" fill="#ddd"/>
<rect x="682" y="598" width="1" height="5"/>
<rect x="693" y="601" width="1" height="2" fill="#ddd"/>
<rect x="703" y="601" width="1" height="2" fill="#ddd"/>
<rect x="714" y="601" width="1" height="2" fill="#ddd"/>
<rect x="724" y="601" width="1" height="2" fill="#ddd"/>
<rect x="735" y="598" width="1" height="5"/>
<rect x="745" y="601" width="1" height="2" fill="#ddd"/>
<rect x="756" y="601" width="1" height="2" fill="#ddd"/>
<rect x="766" y="601" width="1" height="2" fill="#ddd"/>
<rect x="777" y="601" width="1" height="2" fill="#ddd"/>
<rect x="787" y="598" width="1" height="5"/>
<rect x="798" y="601" width="1" height="2" fill="#ddd"/>
<rect x="808" y="601" width="1" height="2" fill="#ddd"/>
<rect x="819" y="601" width="1" height="2" fill="#ddd"/>
<rect x="829" y="601" width="1" height="2" fill="#ddd"/>
<rect x="840" y="598" width="1" height="5"/>
<rect x="850" y="601" width="1" height="2" fill="#ddd"/>
<rect x="861" y="601" width="1" height="2" fill="#ddd"/>
<rect x="871" y="601" width="1" height="2" fill="#ddd"/>
<rect x="882" y="601" width="1" height="2" fill="#ddd"/>
<rect x="892" y="598" width="1" height="5"/>
<rect x="903" y="601" width="1" height="2" fill="#ddd"/>
<rect x="913" y="601" width="1" height="2" fill="#ddd"/>
<rect x="924" y="601" width="1" height="2" fill="#ddd"/>
<rect x="934" y="601" width="1" height="2" fill="#ddd"/>
<rect x="945" y="598" width="1" height="5"/>
<rect x="955" y="601" width="1" height="2" fill="#ddd"/>
<rect x="966" y="601" width="1" height="2" fill="#ddd"/>
<rect x="976" y="601" width="1" height="2" fill="#ddd"/>
<rect x="987" y="601" width="1" height="2" fill="#ddd"/>
<rect x="997" y="598" width="1" height="5"/>
<rect x="1008" y="601" width="1" height="2" fill="#ddd"/>
<rect x="1018" y="601" width="1" height="2" fill="#ddd"/>
<rect x="1029" y="601" width="1" height="2" fill="#ddd"/>
<rect x="1039" y="601" width="1" height="2" fill="#ddd"/>
<rect x="1050" y="598" width="1" height="5"/>
<rect x="1060" y="601" width="1" height="2" fill="#ddd"/>
<rect x="1071" y="601" width="1" height="2" fill="#ddd"/>
<rect x="1081" y="601" width="1" height="2" fill="#ddd"/>
<rect x="1092" y="601" width="1" height="2" fill="#ddd"/>
<rect x="1102" y="598" width="1" height="5"/>
<rect x="1113" y="601" width="1" height="2" fill="#ddd"/>
<rect x="1123" y="601" width="1" height="2" fill="#ddd"/>
<rect x="1134" y="601" width="1" height="2" fill="#ddd"/>
<rect x="1144" y="601" width="1" height="2" fill="#ddd"/>
</g>
<path d="M100.5 52 L104.2 59.7 H96.8Z" fill="#000"/>
<path d="M1161.8 600.5 L1155.2 596.8 V604.2Z" fill="#000"/>
<text x="94.3" y="68.7" text-anchor="end" textLength="29.6" lengthAdjust="spacingAndGlyphs">26.00</text>
<text x="94.3" y="94.7" text-anchor="end" textLength="29.6" lengthAdjust="spacingAndGlyphs">25.79</text>
<text x="94.3" y="121.7" text-anchor="end" textLength="29.6" lengthAdjust="spacingAndGlyphs">25.58</text>
<text x="94.3" y="148.7" text-anchor="end" textLength="29.6" lengthAdjust="spacingAndGlyphs">25.37</text>
<text x="94.3" y="175.7" text-anchor="end" textLength="29.6" lengthAdjust="spacingAndGlyphs">25.16</text>
<text x="94.3" y="201.7" text-anchor="end" textLength="29.6" lengthAdjust="spacingAndGlyphs">24.95</text>
<text x="94.3" y="228.7" text-anchor="end" textLength="29.6" lengthAdjust="spacingAndGlyphs">24.74</text>
<text x="94.3" y="255.7" text-anchor="end" textLength="29.6" lengthAdjust="spacingAndGlyphs">24.53</text>
<text x="94.3" y="282.7" text-anchor="end" textLength="29.6" lengthAdjust="spacingAndGlyphs">24.32</text>
<text x="94.3" y="308.7" text-anchor="end" textLength="29.6" lengthAdjust="spacingAndGlyphs">24.11</text>
<text x="94.3" y="335.7" text-anchor="end" textLength="29.6" lengthAdjust="spacingAndGlyphs">23.90</text>
<text x="94.3" y="362.7" text-anchor="end" textLength="29.6" lengthAdjust="spacingAndGlyphs">23.69</text>
<text x="94.3" y="389.7" text-anchor="end" textLength="29.6" lengthAdjust="spacingAndGlyphs">23.48</text>
<text x="94.3" y="415.7" text-anchor="end" textLength="29.6" lengthAdjust="spacingAndGlyphs">23.27</text>
<text x="94.3" y="442.7" text-anchor="end" textLength="29.6" lengthAdjust="spacingAndGlyphs">23.06</text>
<text x="94.3" y="469.7" text-anchor="end" textLength="29.6" lengthAdjust="spacingAndGlyphs">22.85</text>
<text x="94.3" y="496.7" text-anchor="end" textLength="29.6" lengthAdjust="spacingAndGlyphs">22.64</text>
<text x="94.3" y="522.7" text-anchor="end" textLength="29.6" lengthAdjust="spacingAndGlyphs">22.43</text>
<text x="94.3" y="549.7" text-anchor="end" textLength="29.6" lengthAdjust="spacingAndGlyphs">22.22</text>
<text x="94.3" y="576.7" text-anchor="end" textLength="29.6" lengthAdjust="spacingAndGlyphs">22.01</text>
<text x="94.3" y="603.7" text-anchor="end" textLength="29.6" lengthAdjust="spacingAndGlyphs">21.80</text>
<text x="104.9" y="613.2" text-anchor="middle" textLength="34.5" lengthAdjust="spacingAndGlyphs">13 Fév</text>
<text x="156.9" y="613.2" text-anchor="middle" textLength="34.5" lengthAdjust="spacingAndGlyphs">20 Fév</text>
<text x="209.9" y="613.2" text-anchor="middle" textLength="34.5" lengthAdjust="spacingAndGlyphs">27 Fév</text>
<text x="261.9" y="613.2" text-anchor="middle" textLength="34.9" lengthAdjust="spacingAndGlyphs">6 Mars</text>
<text x="314.9" y="613.2" text-anchor="middle" textLength="41.7" lengthAdjust="spacingAndGlyphs">13 Mars</text>
<text x="366.9" y="613.2" text-anchor="middle" textLength="41.7" lengthAdjust="spacingAndGlyphs">20 Mars</text>
<text x="419.9" y="613.2" text-anchor="middle" textLength="41.7" lengthAdjust="spacingAndGlyphs">27 Mars</text>
<text x="471.9" y="613.2" text-anchor="middle" textLength="26.6" lengthAdjust="spacingAndGlyphs">3 Avr</text>
<text x="524.9" y="613.2" text-anchor="middle" textLength="33.4" lengthAdjust="spacingAndGlyphs">12 Avr</text>
<text x="576.9" y="613.2" text-anchor="middle" textLength="33.4" lengthAdjust="spacingAndGlyphs">21 Avr</text>
<text x="629.9" y="613.2" text-anchor="middle" textLength="33.4" lengthAdjust="spacingAndGlyphs">28 Avr</text>
<text x="681.9" y="613.2" text-anchor="middle" textLength="27.9" lengthAdjust="spacingAndGlyphs">8 Mai</text>
<text x="734.9" y="613.2" text-anchor="middle" textLength="34.7" lengthAdjust="spacingAndGlyphs">15 Mai</text>
<text x="786.9" y="613.2" text-anchor="middle" textLength="34.7" lengthAdjust="spacingAndGlyphs">22 Mai</text>
<text x="839.9" y="613.2" text-anchor="middle" textLength="34.7" lengthAdjust="spacingAndGlyphs">29 Mai</text>
<text x="891.9" y="613.2" text-anchor="middle" textLength="28.9" lengthAdjust="spacingAndGlyphs">5 Juin</text>
<text x="944.9" y="613.2" text-anchor="middle" textLength="35.6" lengthAdjust="spacingAndGlyphs">12 Juin</text>
<text x="996.9" y="613.2" text-anchor="middle" textLength="35.6" lengthAdjust="spacingAndGlyphs">19 Juin</text>
<text x="1049.9" y="613.2" text-anchor="middle" textLength="35.6" lengthAdjust="spacingAndGlyphs">27 Juin</text>
<text x="1101.9" y="613.2" text-anchor="middle" textLength="25.1" lengthAdjust="spacingAndGlyphs">4 Juil</text>
<text x="623.5" y="626.5" text-anchor="middle" textLength="239" lengthAdjust="spacingAndGlyphs">Date (du 13 Février 2017 au 10 Juillet 2017)</text>
<text transform="translate(59.0 332.5) rotate(-90)" text-anchor="middle" textLength="67.5" lengthAdjust="spacingAndGlyphs">Cours (Euro)</text>
<text x="110.0" y="693.7" style="font-size:24.4px" textLength="53.6" lengthAdjust="spacingAndGlyphs">Axa:</text>
<text x="174.6" y="693.7" style="font-size:24.4px" textLength="120.4" lengthAdjust="spacingAndGlyphs">graphique</text>
<text x="302.6" y="693.7" style="font-size:24.4px" textLength="31.1" lengthAdjust="spacingAndGlyphs">du</text>
<text x="342.7" y="693.7" style="font-size:24.4px" textLength="87.2" lengthAdjust="spacingAndGlyphs">volume</text>
<text x="439.1" y="693.7" style="font-size:24.4px" textLength="9.8" lengthAdjust="spacingAndGlyphs">-</text>
<text x="456.3" y="693.7" style="font-size:24.4px" textLength="209.4" lengthAdjust="spacingAndGlyphs">AnalyBourse.com</text>
<rect x="102" y="761" width="1049" height="35" fill="#f8f8f8" shape-rendering="crispEdges"/>
<rect x="102" y="831" width="1049" height="35" fill="#f8f8f8" shape-rendering="crispEdges"/>
<path d="M115.5 725 V900 M126.5 725 V900 M136.5 725 V900 M147.5 725 V900 M168.5 725 V900 M178.5 725 V900 M189.5 725 V900 M199.5 725 V900 M220.5 725 V900 M231.5 725 V900 M241.5 725 V900 M252.5 725 V900 M273.5 725 V900 M283.5 725 V900 M294.5 725 V900 M304.5 725 V900 M325.5 725 V900 M336.5 725 V900 M346.5 725 V900 M357.5 725 V900 M378.5 725 V900 M388.5 725 V900 M399.5 725 V900 M409.5 725 V900 M430.5 725 V900 M441.5 725 V900 M451.5 725 V900 M462.5 725 V900 M483.5 725 V900 M493.5 725 V900 M504.5 725 V900 M514.5 725 V900 M535.5 725 V900 M546.5 725 V900 M556.5 725 V900 M567.5 725 V900 M588.5 725 V900 M598.5 725 V900 M609.5 725 V900 M619.5 725 V900 M640.5 725 V900 M651.5 725 V900 M661.5 725 V900 M672.5 725 V900 M693.5 725 V900 M703.5 725 V900 M714.5 725 V900 M724.5 725 V900 M745.5 725 V900 M756.5 725 V900 M766.5 725 V900 M777.5 725 V900 M798.5 725 V900 M808.5 725 V900 M819.5 725 V900 M829.5 725 V900 M850.5 725 V900 M861.5 725 V900 M871.5 725 V900 M882.5 725 V900 M903.5 725 V900 M913.5 725 V900 M924.5 725 V900 M934.5 725 V900 M955.5 725 V900 M966.5 725 V900 M976.5 725 V900 M987.5 725 V900 M1008.5 725 V900 M1018.5 725 V900 M1029.5 725 V900 M1039.5 725 V900 M1060.5 725 V900 M1071.5 725 V900 M1081.5 725 V900 M1092.5 725 V900 M1113.5 725 V900 M1123.5 725 V900 M1134.5 725 V900 M1144.5 725 V900" stroke="#f2f2f2" stroke-width="1" stroke-dasharray="6 6" stroke-dashoffset="1" fill="none" shape-rendering="crispEdges"/>
<path d="M105.5 725 V900 M157.5 725 V900 M210.5 725 V900 M262.5 725 V900 M315.5 725 V900 M367.5 725 V900 M420.5 725 V900 M472.5 725 V900 M525.5 725 V900 M577.5 725 V900 M630.5 725 V900 M682.5 725 V900 M735.5 725 V900 M787.5 725 V900 M840.5 725 V900 M892.5 725 V900 M945.5 725 V900 M997.5 725 V900 M1050.5 725 V900 M1102.5 725 V900" stroke="#e0e0e0" stroke-width="1" stroke-dasharray="4 4" stroke-dashoffset="1" fill="none" shape-rendering="crispEdges"/>
<path d="M103 725.5 H1151 M103 760.5 H1151 M103 795.5 H1151 M103 830.5 H1151 M103 865.5 H1151" stroke="#e0e0e0" stroke-width="1" stroke-dasharray="4 4" stroke-dashoffset="4" fill="none" shape-rendering="crispEdges"/>
<g shape-rendering="crispEdges">
<rect x="101" y="863" width="8" height="37" fill="rgba(0,255,0,0.64)"/>
<rect x="112" y="864" width="8" height="36" fill="rgba(0,255,0,0.64)"/>
<rect x="122" y="860" width="8" height="40" fill="rgba(0,255,0,0.64)"/>
<rect x="133" y="860" width="8" height="40" fill="rgba(255,0,0,0.64)"/>
<rect x="143" y="839" width="8" height="61" fill="rgba(255,0,0,0.64)"/>
<rect x="154" y="864" width="8" height="36" fill="rgba(255,0,0,0.64)"/>
<rect x="164" y="852" width="8" height="48" fill="rgba(0,255,0,0.64)"/>
<rect x="175" y="831" width="8" height="69" fill="rgba(0,255,0,0.64)"/>
<rect x="185" y="844" width="8" height="56" fill="rgba(255,0,0,0.64)"/>
<rect x="196" y="843" width="8" height="57" fill="rgba(255,0,0,0.64)"/>
<rect x="206" y="847" width="8" height="53" fill="rgba(255,0,0,0.64)"/>
<rect x="217" y="848" width="8" height="52" fill="rgba(0,255,0,0.64)"/>
<rect x="227" y="827" width="8" height="73" fill="rgba(0,255,0,0.64)"/>
<rect x="238" y="858" width="8" height="42" fill="rgba(0,255,0,0.64)"/>
<rect x="248" y="844" width="8" height="56" fill="rgba(0,255,0,0.64)"/>
<rect x="259" y="860" width="8" height="40" fill="rgba(0,255,0,0.64)"/>
<rect x="269" y="863" width="8" height="37" fill="rgba(0,255,0,0.64)"/>
<rect x="280" y="860" width="8" height="40" fill="rgba(0,255,0,0.64)"/>
<rect x="290" y="851" width="8" height="49" fill="rgba(0,255,0,0.64)"/>
<rect x="301" y="852" width="8" height="48" fill="rgba(255,0,0,0.64)"/>
<rect x="311" y="868" width="8" height="32" fill="rgba(255,0,0,0.64)"/>
<rect x="322" y="858" width="8" height="42" fill="rgba(255,0,0,0.64)"/>
<rect x="332" y="864" width="8" height="36" fill="rgba(0,255,0,0.64)"/>
<rect x="343" y="857" width="8" height="43" fill="rgba(255,0,0,0.64)"/>
<rect x="353" y="842" width="8" height="58" fill="rgba(255,0,0,0.64)"/>
<rect x="364" y="871" width="8" height="29" fill="rgba(0,255,0,0.64)"/>
<rect x="374" y="858" width="8" height="42" fill="rgba(255,0,0,0.64)"/>
<rect x="385" y="836" width="8" height="64" fill="rgba(255,0,0,0.64)"/>
<rect x="395" y="855" width="8" height="45" fill="rgba(0,255,0,0.64)"/>
<rect x="406" y="852" width="8" height="48" fill="rgba(255,0,0,0.64)"/>
<rect x="416" y="854" width="8" height="46" fill="rgba(0,255,0,0.64)"/>
<rect x="427" y="865" width="8" height="35" fill="rgba(0,255,0,0.64)"/>
<rect x="437" y="861" width="8" height="39" fill="rgba(0,255,0,0.64)"/>
<rect x="448" y="863" width="8" height="37" fill="rgba(0,255,0,0.64)"/>
<rect x="458" y="847" width="8" height="53" fill="rgba(0,255,0,0.64)"/>
<rect x="469" y="849" width="8" height="51" fill="rgba(255,0,0,0.64)"/>
<rect x="479" y="864" width="8" height="36" fill="rgba(255,0,0,0.64)"/>
<rect x="490" y="862" width="8" height="38" fill="rgba(255,0,0,0.64)"/>
<rect x="500" y="884" width="8" height="16" fill="rgba(0,255,0,0.64)"/>
<rect x="511" y="852" width="8" height="48" fill="rgba(0,255,0,0.64)"/>
<rect x="521" y="850" width="8" height="50" fill="rgba(255,0,0,0.64)"/>
<rect x="532" y="829" width="8" height="71" fill="rgba(255,0,0,0.64)"/>
<rect x="542" y="826" width="8" height="74" fill="rgba(255,0,0,0.64)"/>
<rect x="553" y="833" width="8" height="67" fill="rgba(0,255,0,0.64)"/>
<rect x="563" y="818" width="8" height="82" fill="rgba(0,255,0,0.64)"/>
<rect x="574" y="807" width="8" height="93" fill="rgba(0,255,0,0.64)"/>
<rect x="584" y="745" width="8" height="155" fill="rgba(255,0,0,0.64)"/>
<rect x="595" y="840" width="8" height="60" fill="rgba(255,0,0,0.64)"/>
<rect x="605" y="846" width="8" height="54" fill="rgba(255,0,0,0.64)"/>
<rect x="616" y="839" width="8" height="61" fill="rgba(255,0,0,0.64)"/>
<rect x="626" y="836" width="8" height="64" fill="rgba(0,255,0,0.64)"/>
<rect x="637" y="847" width="8" height="53" fill="rgba(0,255,0,0.64)"/>
<rect x="647" y="844" width="8" height="56" fill="rgba(0,255,0,0.64)"/>
<rect x="658" y="832" width="8" height="68" fill="rgba(0,255,0,0.64)"/>
<rect x="668" y="814" width="8" height="86" fill="rgba(0,255,0,0.64)"/>
<rect x="679" y="830" width="8" height="70" fill="rgba(255,0,0,0.64)"/>
<rect x="689" y="853" width="8" height="47" fill="rgba(255,0,0,0.64)"/>
<rect x="700" y="832" width="8" height="68" fill="rgba(255,0,0,0.64)"/>
<rect x="710" y="823" width="8" height="77" fill="rgba(255,0,0,0.64)"/>
<rect x="721" y="844" width="8" height="56" fill="rgba(255,0,0,0.64)"/>
<rect x="731" y="859" width="8" height="41" fill="rgba(255,0,0,0.64)"/>
<rect x="742" y="854" width="8" height="46" fill="rgba(0,255,0,0.64)"/>
<rect x="752" y="828" width="8" height="72" fill="rgba(255,0,0,0.64)"/>
<rect x="763" y="792" width="8" height="108" fill="rgba(255,0,0,0.64)"/>
<rect x="773" y="828" width="8" height="72" fill="rgba(0,255,0,0.64)"/>
<rect x="784" y="853" width="8" height="47" fill="rgba(255,0,0,0.64)"/>
<rect x="794" y="856" width="8" height="44" fill="rgba(0,255,0,0.64)"/>
<rect x="805" y="859" width="8" height="41" fill="rgba(255,0,0,0.64)"/>
<rect x="815" y="860" width="8" height="40" fill="rgba(255,0,0,0.64)"/>
<rect x="826" y="851" width="8" height="49" fill="rgba(255,0,0,0.64)"/>
<rect x="836" y="869" width="8" height="31" fill="rgba(0,255,0,0.64)"/>
<rect x="847" y="849" width="8" height="51" fill="rgba(0,255,0,0.64)"/>
<rect x="857" y="829" width="8" height="71" fill="rgba(255,0,0,0.64)"/>
<rect x="868" y="859" width="8" height="41" fill="rgba(0,255,0,0.64)"/>
<rect x="878" y="853" width="8" height="47" fill="rgba(255,0,0,0.64)"/>
<rect x="889" y="876" width="8" height="24" fill="rgba(0,255,0,0.64)"/>
<rect x="899" y="842" width="8" height="58" fill="rgba(255,0,0,0.64)"/>
<rect x="910" y="855" width="8" height="45" fill="rgba(255,0,0,0.64)"/>
<rect x="920" y="857" width="8" height="43" fill="rgba(0,255,0,0.64)"/>
<rect x="931" y="860" width="8" height="40" fill="rgba(0,255,0,0.64)"/>
<rect x="941" y="857" width="8" height="43" fill="rgba(0,255,0,0.64)"/>
<rect x="952" y="858" width="8" height="42" fill="rgba(0,255,0,0.64)"/>
<rect x="962" y="838" width="8" height="62" fill="rgba(255,0,0,0.64)"/>
<rect x="973" y="828" width="8" height="72" fill="rgba(255,0,0,0.64)"/>
<rect x="983" y="820" width="8" height="80" fill="rgba(0,255,0,0.64)"/>
<rect x="994" y="860" width="8" height="40" fill="rgba(255,0,0,0.64)"/>
<rect x="1004" y="865" width="8" height="35" fill="rgba(255,0,0,0.64)"/>
<rect x="1015" y="854" width="8" height="46" fill="rgba(0,255,0,0.64)"/>
<rect x="1025" y="860" width="8" height="40" fill="rgba(255,0,0,0.64)"/>
<rect x="1036" y="865" width="8" height="35" fill="rgba(255,0,0,0.64)"/>
<rect x="1046" y="860" width="8" height="40" fill="rgba(255,0,0,0.64)"/>
<rect x="1057" y="842" width="8" height="58" fill="rgba(0,255,0,0.64)"/>
<rect x="1067" y="839" width="8" height="61" fill="rgba(255,0,0,0.64)"/>
<rect x="1078" y="847" width="8" height="53" fill="rgba(255,0,0,0.64)"/>
<rect x="1088" y="856" width="8" height="44" fill="rgba(0,255,0,0.64)"/>
<rect x="1099" y="868" width="8" height="32" fill="rgba(0,255,0,0.64)"/>
<rect x="1109" y="851" width="8" height="49" fill="rgba(0,255,0,0.64)"/>
<rect x="1120" y="851" width="8" height="49" fill="rgba(0,255,0,0.64)"/>
<rect x="1130" y="857" width="8" height="43" fill="rgba(0,255,0,0.64)"/>
<rect x="1141" y="865" width="8" height="35" fill="rgba(0,255,0,0.64)"/>
</g>
<g shape-rendering="crispEdges" fill="#000">
<rect x="100" y="715" width="1" height="186" fill="#1c1c1c"/>
<rect x="100" y="900" width="1063" height="1" fill="#1c1c1c"/>
<rect x="98" y="725" width="5" height="1"/>
<rect x="98" y="760" width="5" height="1"/>
<rect x="98" y="795" width="5" height="1"/>
<rect x="98" y="830" width="5" height="1"/>
<rect x="98" y="865" width="5" height="1"/>
<rect x="98" y="900" width="5" height="1"/>
<rect x="98" y="742" width="3" height="1" fill="#f00"/>
<rect x="98" y="777" width="3" height="1" fill="#f00"/>
<rect x="98" y="812" width="3" height="1" fill="#f00"/>
<rect x="98" y="847" width="3" height="1" fill="#f00"/>
<rect x="98" y="882" width="3" height="1" fill="#f00"/>
<rect x="105" y="898" width="1" height="5"/>
<rect x="115" y="901" width="1" height="2" fill="#ddd"/>
<rect x="126" y="901" width="1" height="2" fill="#ddd"/>
<rect x="136" y="901" width="1" height="2" fill="#ddd"/>
<rect x="147" y="901" width="1" height="2" fill="#ddd"/>
<rect x="157" y="898" width="1" height="5"/>
<rect x="168" y="901" width="1" height="2" fill="#ddd"/>
<rect x="178" y="901" width="1" height="2" fill="#ddd"/>
<rect x="189" y="901" width="1" height="2" fill="#ddd"/>
<rect x="199" y="901" width="1" height="2" fill="#ddd"/>
<rect x="210" y="898" width="1" height="5"/>
<rect x="220" y="901" width="1" height="2" fill="#ddd"/>
<rect x="231" y="901" width="1" height="2" fill="#ddd"/>
<rect x="241" y="901" width="1" height="2" fill="#ddd"/>
<rect x="252" y="901" width="1" height="2" fill="#ddd"/>
<rect x="262" y="898" width="1" height="5"/>
<rect x="273" y="901" width="1" height="2" fill="#ddd"/>
<rect x="283" y="901" width="1" height="2" fill="#ddd"/>
<rect x="294" y="901" width="1" height="2" fill="#ddd"/>
<rect x="304" y="901" width="1" height="2" fill="#ddd"/>
<rect x="315" y="898" width="1" height="5"/>
<rect x="325" y="901" width="1" height="2" fill="#ddd"/>
<rect x="336" y="901" width="1" height="2" fill="#ddd"/>
<rect x="346" y="901" width="1" height="2" fill="#ddd"/>
<rect x="357" y="901" width="1" height="2" fill="#ddd"/>
<rect x="367" y="898" width="1" height="5"/>
<rect x="378" y="901" width="1" height="2" fill="#ddd"/>
<rect x="388" y="901" width="1" height="2" fill="#ddd"/>
<rect x="399" y="901" width="1" height="2" fill="#ddd"/>
<rect x="409" y="901" width="1" height="2" fill="#ddd"/>
<rect x="420" y="898" width="1" height="5"/>
<rect x="430" y="901" width="1" height="2" fill="#ddd"/>
<rect x="441" y="901" width="1" height="2" fill="#ddd"/>
<rect x="451" y="901" width="1" height="2" fill="#ddd"/>
<rect x="462" y="901" width="1" height="2" fill="#ddd"/>
<rect x="472" y="898" width="1" height="5"/>
<rect x="483" y="901" width="1" height="2" fill="#ddd"/>
<rect x="493" y="901" width="1" height="2" fill="#ddd"/>
<rect x="504" y="901" width="1" height="2" fill="#ddd"/>
<rect x="514" y="901" width="1" height="2" fill="#ddd"/>
<rect x="525" y="898" width="1" height="5"/>
<rect x="535" y="901" width="1" height="2" fill="#ddd"/>
<rect x="546" y="901" width="1" height="2" fill="#ddd"/>
<rect x="556" y="901" width="1" height="2" fill="#ddd"/>
<rect x="567" y="901" width="1" height="2" fill="#ddd"/>
<rect x="577" y="898" width="1" height="5"/>
<rect x="588" y="901" width="1" height="2" fill="#ddd"/>
<rect x="598" y="901" width="1" height="2" fill="#ddd"/>
<rect x="609" y="901" width="1" height="2" fill="#ddd"/>
<rect x="619" y="901" width="1" height="2" fill="#ddd"/>
<rect x="630" y="898" width="1" height="5"/>
<rect x="640" y="901" width="1" height="2" fill="#ddd"/>
<rect x="651" y="901" width="1" height="2" fill="#ddd"/>
<rect x="661" y="901" width="1" height="2" fill="#ddd"/>
<rect x="672" y="901" width="1" height="2" fill="#ddd"/>
<rect x="682" y="898" width="1" height="5"/>
<rect x="693" y="901" width="1" height="2" fill="#ddd"/>
<rect x="703" y="901" width="1" height="2" fill="#ddd"/>
<rect x="714" y="901" width="1" height="2" fill="#ddd"/>
<rect x="724" y="901" width="1" height="2" fill="#ddd"/>
<rect x="735" y="898" width="1" height="5"/>
<rect x="745" y="901" width="1" height="2" fill="#ddd"/>
<rect x="756" y="901" width="1" height="2" fill="#ddd"/>
<rect x="766" y="901" width="1" height="2" fill="#ddd"/>
<rect x="777" y="901" width="1" height="2" fill="#ddd"/>
<rect x="787" y="898" width="1" height="5"/>
<rect x="798" y="901" width="1" height="2" fill="#ddd"/>
<rect x="808" y="901" width="1" height="2" fill="#ddd"/>
<rect x="819" y="901" width="1" height="2" fill="#ddd"/>
<rect x="829" y="901" width="1" height="2" fill="#ddd"/>
<rect x="840" y="898" width="1" height="5"/>
<rect x="850" y="901" width="1" height="2" fill="#ddd"/>
<rect x="861" y="901" width="1" height="2" fill="#ddd"/>
<rect x="871" y="901" width="1" height="2" fill="#ddd"/>
<rect x="882" y="901" width="1" height="2" fill="#ddd"/>
<rect x="892" y="898" width="1" height="5"/>
<rect x="903" y="901" width="1" height="2" fill="#ddd"/>
<rect x="913" y="901" width="1" height="2" fill="#ddd"/>
<rect x="924" y="901" width="1" height="2" fill="#ddd"/>
<rect x="934" y="901" width="1" height="2" fill="#ddd"/>
<rect x="945" y="898" width="1" height="5"/>
<rect x="955" y="901" width="1" height="2" fill="#ddd"/>
<rect x="966" y="901" width="1" height="2" fill="#ddd"/>
<rect x="976" y="901" width="1" height="2" fill="#ddd"/>
<rect x="987" y="901" width="1" height="2" fill="#ddd"/>
<rect x="997" y="898" width="1" height="5"/>
<rect x="1008" y="901" width="1" height="2" fill="#ddd"/>
<rect x="1018" y="901" width="1" height="2" fill="#ddd"/>
<rect x="1029" y="901" width="1" height="2" fill="#ddd"/>
<rect x="1039" y="901" width="1" height="2" fill="#ddd"/>
<rect x="1050" y="898" width="1" height="5"/>
<rect x="1060" y="901" width="1" height="2" fill="#ddd"/>
<rect x="1071" y="901" width="1" height="2" fill="#ddd"/>
<rect x="1081" y="901" width="1" height="2" fill="#ddd"/>
<rect x="1092" y="901" width="1" height="2" fill="#ddd"/>
<rect x="1102" y="898" width="1" height="5"/>
<rect x="1113" y="901" width="1" height="2" fill="#ddd"/>
<rect x="1123" y="901" width="1" height="2" fill="#ddd"/>
<rect x="1134" y="901" width="1" height="2" fill="#ddd"/>
<rect x="1144" y="901" width="1" height="2" fill="#ddd"/>
</g>
<path d="M100.5 712 L104.2 719.7 H96.8Z" fill="#000"/>
<path d="M1161.8 900.5 L1155.2 896.8 V904.2Z" fill="#000"/>
<text x="94.3" y="728.7" text-anchor="end" textLength="77.1" lengthAdjust="spacingAndGlyphs">25,000,000.00</text>
<text x="94.3" y="763.7" text-anchor="end" textLength="77.1" lengthAdjust="spacingAndGlyphs">20,000,000.00</text>
<text x="94.3" y="798.7" text-anchor="end" textLength="77.1" lengthAdjust="spacingAndGlyphs">15,000,000.00</text>
<text x="94.3" y="833.7" text-anchor="end" textLength="77.1" lengthAdjust="spacingAndGlyphs">10,000,000.00</text>
<text x="94.3" y="868.7" text-anchor="end" textLength="70.3" lengthAdjust="spacingAndGlyphs">5,000,000.00</text>
<text x="94.3" y="903.7" text-anchor="end" textLength="22.8" lengthAdjust="spacingAndGlyphs">0.00</text>
<text x="104.9" y="913.2" text-anchor="middle" textLength="34.5" lengthAdjust="spacingAndGlyphs">13 Fév</text>
<text x="156.9" y="913.2" text-anchor="middle" textLength="34.5" lengthAdjust="spacingAndGlyphs">20 Fév</text>
<text x="209.9" y="913.2" text-anchor="middle" textLength="34.5" lengthAdjust="spacingAndGlyphs">27 Fév</text>
<text x="261.9" y="913.2" text-anchor="middle" textLength="34.9" lengthAdjust="spacingAndGlyphs">6 Mars</text>
<text x="314.9" y="913.2" text-anchor="middle" textLength="41.7" lengthAdjust="spacingAndGlyphs">13 Mars</text>
<text x="366.9" y="913.2" text-anchor="middle" textLength="41.7" lengthAdjust="spacingAndGlyphs">20 Mars</text>
<text x="419.9" y="913.2" text-anchor="middle" textLength="41.7" lengthAdjust="spacingAndGlyphs">27 Mars</text>
<text x="471.9" y="913.2" text-anchor="middle" textLength="26.6" lengthAdjust="spacingAndGlyphs">3 Avr</text>
<text x="524.9" y="913.2" text-anchor="middle" textLength="33.4" lengthAdjust="spacingAndGlyphs">12 Avr</text>
<text x="576.9" y="913.2" text-anchor="middle" textLength="33.4" lengthAdjust="spacingAndGlyphs">21 Avr</text>
<text x="629.9" y="913.2" text-anchor="middle" textLength="33.4" lengthAdjust="spacingAndGlyphs">28 Avr</text>
<text x="681.9" y="913.2" text-anchor="middle" textLength="27.9" lengthAdjust="spacingAndGlyphs">8 Mai</text>
<text x="734.9" y="913.2" text-anchor="middle" textLength="34.7" lengthAdjust="spacingAndGlyphs">15 Mai</text>
<text x="786.9" y="913.2" text-anchor="middle" textLength="34.7" lengthAdjust="spacingAndGlyphs">22 Mai</text>
<text x="839.9" y="913.2" text-anchor="middle" textLength="34.7" lengthAdjust="spacingAndGlyphs">29 Mai</text>
<text x="891.9" y="913.2" text-anchor="middle" textLength="28.9" lengthAdjust="spacingAndGlyphs">5 Juin</text>
<text x="944.9" y="913.2" text-anchor="middle" textLength="35.6" lengthAdjust="spacingAndGlyphs">12 Juin</text>
<text x="996.9" y="913.2" text-anchor="middle" textLength="35.6" lengthAdjust="spacingAndGlyphs">19 Juin</text>
<text x="1049.9" y="913.2" text-anchor="middle" textLength="35.6" lengthAdjust="spacingAndGlyphs">27 Juin</text>
<text x="1101.9" y="913.2" text-anchor="middle" textLength="25.1" lengthAdjust="spacingAndGlyphs">4 Juil</text>
<text x="623.5" y="926.5" text-anchor="middle" textLength="239" lengthAdjust="spacingAndGlyphs">Date (du 13 Février 2017 au 10 Juillet 2017)</text>
<text transform="translate(13.0 812.5) rotate(-90)" text-anchor="middle" textLength="39" lengthAdjust="spacingAndGlyphs">Volume</text>
<text x="110.0" y="993.7" style="font-size:24.4px" textLength="53.6" lengthAdjust="spacingAndGlyphs">Axa:</text>
<text x="174.6" y="993.7" style="font-size:24.4px" textLength="120.4" lengthAdjust="spacingAndGlyphs">graphique</text>
<text x="302.6" y="993.7" style="font-size:24.4px" textLength="31.1" lengthAdjust="spacingAndGlyphs">du</text>
<text x="342.7" y="993.7" style="font-size:24.4px" textLength="41.8" lengthAdjust="spacingAndGlyphs">RSI</text>
<text x="393.7" y="993.7" style="font-size:24.4px" textLength="9.9" lengthAdjust="spacingAndGlyphs">-</text>
<text x="412.3" y="993.7" style="font-size:24.4px" textLength="95.4" lengthAdjust="spacingAndGlyphs">RSI(14)</text>
<text x="516.4" y="993.7" style="font-size:24.4px" textLength="10.4" lengthAdjust="spacingAndGlyphs">-</text>
<text x="534.7" y="993.7" style="font-size:24.4px" textLength="209.0" lengthAdjust="spacingAndGlyphs">AnalyBourse.com</text>
<rect x="102" y="1061" width="1049" height="35" fill="#f8f8f8" shape-rendering="crispEdges"/>
<rect x="102" y="1131" width="1049" height="35" fill="#f8f8f8" shape-rendering="crispEdges"/>
<path d="M115.5 1025 V1200 M126.5 1025 V1200 M136.5 1025 V1200 M147.5 1025 V1200 M168.5 1025 V1200 M178.5 1025 V1200 M189.5 1025 V1200 M199.5 1025 V1200 M220.5 1025 V1200 M231.5 1025 V1200 M241.5 1025 V1200 M252.5 1025 V1200 M273.5 1025 V1200 M283.5 1025 V1200 M294.5 1025 V1200 M304.5 1025 V1200 M325.5 1025 V1200 M336.5 1025 V1200 M346.5 1025 V1200 M357.5 1025 V1200 M378.5 1025 V1200 M388.5 1025 V1200 M399.5 1025 V1200 M409.5 1025 V1200 M430.5 1025 V1200 M441.5 1025 V1200 M451.5 1025 V1200 M462.5 1025 V1200 M483.5 1025 V1200 M493.5 1025 V1200 M504.5 1025 V1200 M514.5 1025 V1200 M535.5 1025 V1200 M546.5 1025 V1200 M556.5 1025 V1200 M567.5 1025 V1200 M588.5 1025 V1200 M598.5 1025 V1200 M609.5 1025 V1200 M619.5 1025 V1200 M640.5 1025 V1200 M651.5 1025 V1200 M661.5 1025 V1200 M672.5 1025 V1200 M693.5 1025 V1200 M703.5 1025 V1200 M714.5 1025 V1200 M724.5 1025 V1200 M745.5 1025 V1200 M756.5 1025 V1200 M766.5 1025 V1200 M777.5 1025 V1200 M798.5 1025 V1200 M808.5 1025 V1200 M819.5 1025 V1200 M829.5 1025 V1200 M850.5 1025 V1200 M861.5 1025 V1200 M871.5 1025 V1200 M882.5 1025 V1200 M903.5 1025 V1200 M913.5 1025 V1200 M924.5 1025 V1200 M934.5 1025 V1200 M955.5 1025 V1200 M966.5 1025 V1200 M976.5 1025 V1200 M987.5 1025 V1200 M1008.5 1025 V1200 M1018.5 1025 V1200 M1029.5 1025 V1200 M1039.5 1025 V1200 M1060.5 1025 V1200 M1071.5 1025 V1200 M1081.5 1025 V1200 M1092.5 1025 V1200 M1113.5 1025 V1200 M1123.5 1025 V1200 M1134.5 1025 V1200 M1144.5 1025 V1200" stroke="#f2f2f2" stroke-width="1" stroke-dasharray="6 6" stroke-dashoffset="1" fill="none" shape-rendering="crispEdges"/>
<path d="M105.5 1025 V1200 M157.5 1025 V1200 M210.5 1025 V1200 M262.5 1025 V1200 M315.5 1025 V1200 M367.5 1025 V1200 M420.5 1025 V1200 M472.5 1025 V1200 M525.5 1025 V1200 M577.5 1025 V1200 M630.5 1025 V1200 M682.5 1025 V1200 M735.5 1025 V1200 M787.5 1025 V1200 M840.5 1025 V1200 M892.5 1025 V1200 M945.5 1025 V1200 M997.5 1025 V1200 M1050.5 1025 V1200 M1102.5 1025 V1200" stroke="#e0e0e0" stroke-width="1" stroke-dasharray="4 4" stroke-dashoffset="1" fill="none" shape-rendering="crispEdges"/>
<path d="M103 1025.5 H1151 M103 1060.5 H1151 M103 1095.5 H1151 M103 1130.5 H1151 M103 1165.5 H1151" stroke="#e0e0e0" stroke-width="1" stroke-dasharray="4 4" stroke-dashoffset="4" fill="none" shape-rendering="crispEdges"/>
<rect x="105" y="1112" width="1040" height="1" fill="#555" shape-rendering="crispEdges"/>
<path d="M105.50 1114.25 C106.55 1114.05 113.90 1112.50 116.00 1112.25 C118.10 1112.00 124.40 1111.28 126.50 1111.75 C128.60 1112.22 134.90 1115.67 137.00 1117.00 C139.10 1118.33 145.40 1123.88 147.50 1125.00 C149.60 1126.12 155.90 1128.20 158.00 1128.25 C160.10 1128.30 166.40 1126.83 168.50 1125.50 C170.60 1124.17 176.90 1115.55 179.00 1115.00 C181.10 1114.45 187.40 1118.62 189.50 1120.00 C191.60 1121.38 197.90 1127.50 200.00 1128.75 C202.10 1130.00 208.40 1132.67 210.50 1132.50 C212.60 1132.33 218.90 1129.62 221.00 1127.00 C223.10 1124.38 229.40 1108.65 231.50 1106.25 C233.60 1103.85 239.90 1104.08 242.00 1103.00 C244.10 1101.92 250.40 1096.15 252.50 1095.50 C254.60 1094.85 260.90 1096.42 263.00 1096.50 C265.10 1096.58 271.40 1096.58 273.50 1096.25 C275.60 1095.92 281.90 1094.17 284.00 1093.25 C286.10 1092.33 292.40 1087.30 294.50 1087.00 C296.60 1086.70 302.90 1089.90 305.00 1090.25 C307.10 1090.60 313.40 1089.78 315.50 1090.50 C317.60 1091.22 323.90 1097.00 326.00 1097.50 C328.10 1098.00 334.40 1096.00 336.50 1095.50 C338.60 1095.00 344.90 1092.55 347.00 1092.50 C349.10 1092.45 355.40 1094.60 357.50 1095.00 C359.60 1095.40 365.90 1096.70 368.00 1096.50 C370.10 1096.30 376.40 1091.47 378.50 1093.00 C380.60 1094.53 386.90 1110.42 389.00 1111.75 C391.10 1113.08 397.40 1106.47 399.50 1106.25 C401.60 1106.03 407.90 1109.67 410.00 1109.50 C412.10 1109.33 418.40 1105.58 420.50 1104.50 C422.60 1103.42 428.90 1099.83 431.00 1098.75 C433.10 1097.67 439.40 1094.70 441.50 1093.75 C443.60 1092.80 449.90 1089.88 452.00 1089.25 C454.10 1088.62 460.40 1086.17 462.50 1087.50 C464.60 1088.83 470.90 1100.75 473.00 1102.50 C475.10 1104.25 481.40 1104.10 483.50 1105.00 C485.60 1105.90 491.90 1110.83 494.00 1111.50 C496.10 1112.17 502.40 1111.45 504.50 1111.75 C506.60 1112.05 512.90 1114.05 515.00 1114.50 C517.10 1114.95 523.40 1114.83 525.50 1116.25 C527.60 1117.67 533.90 1126.12 536.00 1128.75 C538.10 1131.38 544.40 1141.42 546.50 1142.50 C548.60 1143.58 554.90 1141.67 557.00 1139.50 C559.10 1137.33 565.40 1123.50 567.50 1120.75 C569.60 1118.00 575.90 1116.15 578.00 1112.00 C580.10 1107.85 586.40 1082.45 588.50 1079.25 C590.60 1076.05 596.90 1079.12 599.00 1080.00 C601.10 1080.88 607.40 1086.12 609.50 1088.00 C611.60 1089.88 617.90 1097.85 620.00 1098.75 C622.10 1099.65 628.40 1098.05 630.50 1097.00 C632.60 1095.95 638.90 1089.50 641.00 1088.25 C643.10 1087.00 649.40 1085.78 651.50 1084.50 C653.60 1083.22 659.90 1074.33 662.00 1075.50 C664.10 1076.67 670.40 1093.35 672.50 1096.25 C674.60 1099.15 680.90 1103.42 683.00 1104.50 C685.10 1105.58 691.40 1106.62 693.50 1107.00 C695.60 1107.38 701.90 1107.75 704.00 1108.25 C706.10 1108.75 712.40 1111.50 714.50 1112.00 C716.60 1112.50 722.90 1113.53 725.00 1113.25 C727.10 1112.97 733.40 1109.12 735.50 1109.25 C737.60 1109.38 743.90 1113.12 746.00 1114.50 C748.10 1115.88 754.40 1121.62 756.50 1123.00 C758.60 1124.38 764.90 1128.33 767.00 1128.25 C769.10 1128.17 775.40 1122.90 777.50 1122.25 C779.60 1121.60 785.90 1122.42 788.00 1121.75 C790.10 1121.08 796.40 1116.00 798.50 1115.50 C800.60 1115.00 806.90 1116.30 809.00 1116.75 C811.10 1117.20 817.40 1119.25 819.50 1120.00 C821.60 1120.75 827.90 1124.42 830.00 1124.25 C832.10 1124.08 838.40 1118.45 840.50 1118.25 C842.60 1118.05 848.90 1121.85 851.00 1122.25 C853.10 1122.65 859.40 1122.65 861.50 1122.25 C863.60 1121.85 869.90 1118.85 872.00 1118.25 C874.10 1117.65 880.40 1116.25 882.50 1116.25 C884.60 1116.25 890.90 1117.33 893.00 1118.25 C895.10 1119.17 901.40 1124.50 903.50 1125.50 C905.60 1126.50 911.90 1128.85 914.00 1128.25 C916.10 1127.65 922.40 1121.53 924.50 1119.50 C926.60 1117.47 932.90 1109.25 935.00 1108.00 C937.10 1106.75 943.40 1107.17 945.50 1107.00 C947.60 1106.83 953.90 1106.15 956.00 1106.25 C958.10 1106.35 964.40 1107.30 966.50 1108.00 C968.60 1108.70 974.90 1113.92 977.00 1113.25 C979.10 1112.58 985.40 1102.62 987.50 1101.25 C989.60 1099.88 995.90 1099.62 998.00 1099.50 C1000.10 1099.38 1006.40 1098.65 1008.50 1100.00 C1010.60 1101.35 1016.90 1111.38 1019.00 1113.00 C1021.10 1114.62 1027.40 1116.25 1029.50 1116.25 C1031.60 1116.25 1037.90 1112.88 1040.00 1113.00 C1042.10 1113.12 1048.40 1118.25 1050.50 1117.50 C1052.60 1116.75 1058.90 1106.75 1061.00 1105.50 C1063.10 1104.25 1069.40 1104.00 1071.50 1105.00 C1073.60 1106.00 1079.90 1116.70 1082.00 1115.50 C1084.10 1114.30 1090.40 1095.03 1092.50 1093.00 C1094.60 1090.97 1100.90 1095.35 1103.00 1095.25 C1105.10 1095.15 1111.40 1092.90 1113.50 1092.00 C1115.60 1091.10 1121.90 1087.30 1124.00 1086.25 C1126.10 1085.20 1132.40 1082.38 1134.50 1081.50 C1136.60 1080.62 1143.95 1077.90 1145.00 1077.50" stroke="#ff3030" stroke-width="1" fill="none" shape-rendering="crispEdges"/>
<g shape-rendering="crispEdges" fill="#000">
<rect x="100" y="1015" width="1" height="186" fill="#1c1c1c"/>
<rect x="100" y="1200" width="1063" height="1" fill="#1c1c1c"/>
<rect x="98" y="1025" width="5" height="1"/>
<rect x="98" y="1060" width="5" height="1"/>
<rect x="98" y="1095" width="5" height="1"/>
<rect x="98" y="1130" width="5" height="1"/>
<rect x="98" y="1165" width="5" height="1"/>
<rect x="98" y="1200" width="5" height="1"/>
<rect x="98" y="1042" width="3" height="1" fill="#f00"/>
<rect x="98" y="1077" width="3" height="1" fill="#f00"/>
<rect x="98" y="1112" width="3" height="1" fill="#f00"/>
<rect x="98" y="1147" width="3" height="1" fill="#f00"/>
<rect x="98" y="1182" width="3" height="1" fill="#f00"/>
<rect x="105" y="1198" width="1" height="5"/>
<rect x="115" y="1201" width="1" height="2" fill="#ddd"/>
<rect x="126" y="1201" width="1" height="2" fill="#ddd"/>
<rect x="136" y="1201" width="1" height="2" fill="#ddd"/>
<rect x="147" y="1201" width="1" height="2" fill="#ddd"/>
<rect x="157" y="1198" width="1" height="5"/>
<rect x="168" y="1201" width="1" height="2" fill="#ddd"/>
<rect x="178" y="1201" width="1" height="2" fill="#ddd"/>
<rect x="189" y="1201" width="1" height="2" fill="#ddd"/>
<rect x="199" y="1201" width="1" height="2" fill="#ddd"/>
<rect x="210" y="1198" width="1" height="5"/>
<rect x="220" y="1201" width="1" height="2" fill="#ddd"/>
<rect x="231" y="1201" width="1" height="2" fill="#ddd"/>
<rect x="241" y="1201" width="1" height="2" fill="#ddd"/>
<rect x="252" y="1201" width="1" height="2" fill="#ddd"/>
<rect x="262" y="1198" width="1" height="5"/>
<rect x="273" y="1201" width="1" height="2" fill="#ddd"/>
<rect x="283" y="1201" width="1" height="2" fill="#ddd"/>
<rect x="294" y="1201" width="1" height="2" fill="#ddd"/>
<rect x="304" y="1201" width="1" height="2" fill="#ddd"/>
<rect x="315" y="1198" width="1" height="5"/>
<rect x="325" y="1201" width="1" height="2" fill="#ddd"/>
<rect x="336" y="1201" width="1" height="2" fill="#ddd"/>
<rect x="346" y="1201" width="1" height="2" fill="#ddd"/>
<rect x="357" y="1201" width="1" height="2" fill="#ddd"/>
<rect x="367" y="1198" width="1" height="5"/>
<rect x="378" y="1201" width="1" height="2" fill="#ddd"/>
<rect x="388" y="1201" width="1" height="2" fill="#ddd"/>
<rect x="399" y="1201" width="1" height="2" fill="#ddd"/>
<rect x="409" y="1201" width="1" height="2" fill="#ddd"/>
<rect x="420" y="1198" width="1" height="5"/>
<rect x="430" y="1201" width="1" height="2" fill="#ddd"/>
<rect x="441" y="1201" width="1" height="2" fill="#ddd"/>
<rect x="451" y="1201" width="1" height="2" fill="#ddd"/>
<rect x="462" y="1201" width="1" height="2" fill="#ddd"/>
<rect x="472" y="1198" width="1" height="5"/>
<rect x="483" y="1201" width="1" height="2" fill="#ddd"/>
<rect x="493" y="1201" width="1" height="2" fill="#ddd"/>
<rect x="504" y="1201" width="1" height="2" fill="#ddd"/>
<rect x="514" y="1201" width="1" height="2" fill="#ddd"/>
<rect x="525" y="1198" width="1" height="5"/>
<rect x="535" y="1201" width="1" height="2" fill="#ddd"/>
<rect x="546" y="1201" width="1" height="2" fill="#ddd"/>
<rect x="556" y="1201" width="1" height="2" fill="#ddd"/>
<rect x="567" y="1201" width="1" height="2" fill="#ddd"/>
<rect x="577" y="1198" width="1" height="5"/>
<rect x="588" y="1201" width="1" height="2" fill="#ddd"/>
<rect x="598" y="1201" width="1" height="2" fill="#ddd"/>
<rect x="609" y="1201" width="1" height="2" fill="#ddd"/>
<rect x="619" y="1201" width="1" height="2" fill="#ddd"/>
<rect x="630" y="1198" width="1" height="5"/>
<rect x="640" y="1201" width="1" height="2" fill="#ddd"/>
<rect x="651" y="1201" width="1" height="2" fill="#ddd"/>
<rect x="661" y="1201" width="1" height="2" fill="#ddd"/>
<rect x="672" y="1201" width="1" height="2" fill="#ddd"/>
<rect x="682" y="1198" width="1" height="5"/>
<rect x="693" y="1201" width="1" height="2" fill="#ddd"/>
<rect x="703" y="1201" width="1" height="2" fill="#ddd"/>
<rect x="714" y="1201" width="1" height="2" fill="#ddd"/>
<rect x="724" y="1201" width="1" height="2" fill="#ddd"/>
<rect x="735" y="1198" width="1" height="5"/>
<rect x="745" y="1201" width="1" height="2" fill="#ddd"/>
<rect x="756" y="1201" width="1" height="2" fill="#ddd"/>
<rect x="766" y="1201" width="1" height="2" fill="#ddd"/>
<rect x="777" y="1201" width="1" height="2" fill="#ddd"/>
<rect x="787" y="1198" width="1" height="5"/>
<rect x="798" y="1201" width="1" height="2" fill="#ddd"/>
<rect x="808" y="1201" width="1" height="2" fill="#ddd"/>
<rect x="819" y="1201" width="1" height="2" fill="#ddd"/>
<rect x="829" y="1201" width="1" height="2" fill="#ddd"/>
<rect x="840" y="1198" width="1" height="5"/>
<rect x="850" y="1201" width="1" height="2" fill="#ddd"/>
<rect x="861" y="1201" width="1" height="2" fill="#ddd"/>
<rect x="871" y="1201" width="1" height="2" fill="#ddd"/>
<rect x="882" y="1201" width="1" height="2" fill="#ddd"/>
<rect x="892" y="1198" width="1" height="5"/>
<rect x="903" y="1201" width="1" height="2" fill="#ddd"/>
<rect x="913" y="1201" width="1" height="2" fill="#ddd"/>
<rect x="924" y="1201" width="1" height="2" fill="#ddd"/>
<rect x="934" y="1201" width="1" height="2" fill="#ddd"/>
<rect x="945" y="1198" width="1" height="5"/>
<rect x="955" y="1201" width="1" height="2" fill="#ddd"/>
<rect x="966" y="1201" width="1" height="2" fill="#ddd"/>
<rect x="976" y="1201" width="1" height="2" fill="#ddd"/>
<rect x="987" y="1201" width="1" height="2" fill="#ddd"/>
<rect x="997" y="1198" width="1" height="5"/>
<rect x="1008" y="1201" width="1" height="2" fill="#ddd"/>
<rect x="1018" y="1201" width="1" height="2" fill="#ddd"/>
<rect x="1029" y="1201" width="1" height="2" fill="#ddd"/>
<rect x="1039" y="1201" width="1" height="2" fill="#ddd"/>
<rect x="1050" y="1198" width="1" height="5"/>
<rect x="1060" y="1201" width="1" height="2" fill="#ddd"/>
<rect x="1071" y="1201" width="1" height="2" fill="#ddd"/>
<rect x="1081" y="1201" width="1" height="2" fill="#ddd"/>
<rect x="1092" y="1201" width="1" height="2" fill="#ddd"/>
<rect x="1102" y="1198" width="1" height="5"/>
<rect x="1113" y="1201" width="1" height="2" fill="#ddd"/>
<rect x="1123" y="1201" width="1" height="2" fill="#ddd"/>
<rect x="1134" y="1201" width="1" height="2" fill="#ddd"/>
<rect x="1144" y="1201" width="1" height="2" fill="#ddd"/>
</g>
<path d="M100.5 1012 L104.2 1019.7 H96.8Z" fill="#000"/>
<path d="M1161.8 1200.5 L1155.2 1196.8 V1204.2Z" fill="#000"/>
<text x="94.3" y="1028.7" text-anchor="end" textLength="36.4" lengthAdjust="spacingAndGlyphs">100.00</text>
<text x="94.3" y="1063.7" text-anchor="end" textLength="29.6" lengthAdjust="spacingAndGlyphs">80.00</text>
<text x="94.3" y="1098.7" text-anchor="end" textLength="29.6" lengthAdjust="spacingAndGlyphs">60.00</text>
<text x="94.3" y="1133.7" text-anchor="end" textLength="29.6" lengthAdjust="spacingAndGlyphs">40.00</text>
<text x="94.3" y="1168.7" text-anchor="end" textLength="29.6" lengthAdjust="spacingAndGlyphs">20.00</text>
<text x="94.3" y="1203.7" text-anchor="end" textLength="22.8" lengthAdjust="spacingAndGlyphs">0.00</text>
<text x="104.9" y="1213.2" text-anchor="middle" textLength="34.5" lengthAdjust="spacingAndGlyphs">13 Fév</text>
<text x="156.9" y="1213.2" text-anchor="middle" textLength="34.5" lengthAdjust="spacingAndGlyphs">20 Fév</text>
<text x="209.9" y="1213.2" text-anchor="middle" textLength="34.5" lengthAdjust="spacingAndGlyphs">27 Fév</text>
<text x="261.9" y="1213.2" text-anchor="middle" textLength="34.9" lengthAdjust="spacingAndGlyphs">6 Mars</text>
<text x="314.9" y="1213.2" text-anchor="middle" textLength="41.7" lengthAdjust="spacingAndGlyphs">13 Mars</text>
<text x="366.9" y="1213.2" text-anchor="middle" textLength="41.7" lengthAdjust="spacingAndGlyphs">20 Mars</text>
<text x="419.9" y="1213.2" text-anchor="middle" textLength="41.7" lengthAdjust="spacingAndGlyphs">27 Mars</text>
<text x="471.9" y="1213.2" text-anchor="middle" textLength="26.6" lengthAdjust="spacingAndGlyphs">3 Avr</text>
<text x="524.9" y="1213.2" text-anchor="middle" textLength="33.4" lengthAdjust="spacingAndGlyphs">12 Avr</text>
<text x="576.9" y="1213.2" text-anchor="middle" textLength="33.4" lengthAdjust="spacingAndGlyphs">21 Avr</text>
<text x="629.9" y="1213.2" text-anchor="middle" textLength="33.4" lengthAdjust="spacingAndGlyphs">28 Avr</text>
<text x="681.9" y="1213.2" text-anchor="middle" textLength="27.9" lengthAdjust="spacingAndGlyphs">8 Mai</text>
<text x="734.9" y="1213.2" text-anchor="middle" textLength="34.7" lengthAdjust="spacingAndGlyphs">15 Mai</text>
<text x="786.9" y="1213.2" text-anchor="middle" textLength="34.7" lengthAdjust="spacingAndGlyphs">22 Mai</text>
<text x="839.9" y="1213.2" text-anchor="middle" textLength="34.7" lengthAdjust="spacingAndGlyphs">29 Mai</text>
<text x="891.9" y="1213.2" text-anchor="middle" textLength="28.9" lengthAdjust="spacingAndGlyphs">5 Juin</text>
<text x="944.9" y="1213.2" text-anchor="middle" textLength="35.6" lengthAdjust="spacingAndGlyphs">12 Juin</text>
<text x="996.9" y="1213.2" text-anchor="middle" textLength="35.6" lengthAdjust="spacingAndGlyphs">19 Juin</text>
<text x="1049.9" y="1213.2" text-anchor="middle" textLength="35.6" lengthAdjust="spacingAndGlyphs">27 Juin</text>
<text x="1101.9" y="1213.2" text-anchor="middle" textLength="25.1" lengthAdjust="spacingAndGlyphs">4 Juil</text>
<text x="623.5" y="1226.5" text-anchor="middle" textLength="239" lengthAdjust="spacingAndGlyphs">Date (du 13 Février 2017 au 10 Juillet 2017)</text>
<text transform="translate(55.2 1112.5) rotate(-90)" text-anchor="middle" textLength="18" lengthAdjust="spacingAndGlyphs">RSI</text>
<text x="110.0" y="1293.7" style="font-size:24.4px" textLength="53.6" lengthAdjust="spacingAndGlyphs">Axa:</text>
<text x="174.6" y="1293.7" style="font-size:24.4px" textLength="120.4" lengthAdjust="spacingAndGlyphs">graphique</text>
<text x="302.6" y="1293.7" style="font-size:24.4px" textLength="31.1" lengthAdjust="spacingAndGlyphs">du</text>
<text x="342.1" y="1293.7" style="font-size:24.4px" textLength="71.8" lengthAdjust="spacingAndGlyphs">MACD</text>
<text x="423.4" y="1293.7" style="font-size:24.4px" textLength="9.9" lengthAdjust="spacingAndGlyphs">-</text>
<text x="441.5" y="1293.7" style="font-size:24.4px" textLength="186.4" lengthAdjust="spacingAndGlyphs">MACD(12,26,9)</text>
<text x="638.4" y="1293.7" style="font-size:24.4px" textLength="9.9" lengthAdjust="spacingAndGlyphs">-</text>
<text x="656.1" y="1293.7" style="font-size:24.4px" textLength="208.9" lengthAdjust="spacingAndGlyphs">AnalyBourse.com</text>
<rect x="102" y="1326" width="1049" height="21" fill="#f8f8f8" shape-rendering="crispEdges"/>
<rect x="102" y="1369" width="1049" height="22" fill="#f8f8f8" shape-rendering="crispEdges"/>
<rect x="102" y="1413" width="1049" height="22" fill="#f8f8f8" shape-rendering="crispEdges"/>
<rect x="102" y="1457" width="1049" height="22" fill="#f8f8f8" shape-rendering="crispEdges"/>
<path d="M115.5 1325 V1500 M126.5 1325 V1500 M136.5 1325 V1500 M147.5 1325 V1500 M168.5 1325 V1500 M178.5 1325 V1500 M189.5 1325 V1500 M199.5 1325 V1500 M220.5 1325 V1500 M231.5 1325 V1500 M241.5 1325 V1500 M252.5 1325 V1500 M273.5 1325 V1500 M283.5 1325 V1500 M294.5 1325 V1500 M304.5 1325 V1500 M325.5 1325 V1500 M336.5 1325 V1500 M346.5 1325 V1500 M357.5 1325 V1500 M378.5 1325 V1500 M388.5 1325 V1500 M399.5 1325 V1500 M409.5 1325 V1500 M430.5 1325 V1500 M441.5 1325 V1500 M451.5 1325 V1500 M462.5 1325 V1500 M483.5 1325 V1500 M493.5 1325 V1500 M504.5 1325 V1500 M514.5 1325 V1500 M535.5 1325 V1500 M546.5 1325 V1500 M556.5 1325 V1500 M567.5 1325 V1500 M588.5 1325 V1500 M598.5 1325 V1500 M609.5 1325 V1500 M619.5 1325 V1500 M640.5 1325 V1500 M651.5 1325 V1500 M661.5 1325 V1500 M672.5 1325 V1500 M693.5 1325 V1500 M703.5 1325 V1500 M714.5 1325 V1500 M724.5 1325 V1500 M745.5 1325 V1500 M756.5 1325 V1500 M766.5 1325 V1500 M777.5 1325 V1500 M798.5 1325 V1500 M808.5 1325 V1500 M819.5 1325 V1500 M829.5 1325 V1500 M850.5 1325 V1500 M861.5 1325 V1500 M871.5 1325 V1500 M882.5 1325 V1500 M903.5 1325 V1500 M913.5 1325 V1500 M924.5 1325 V1500 M934.5 1325 V1500 M955.5 1325 V1500 M966.5 1325 V1500 M976.5 1325 V1500 M987.5 1325 V1500 M1008.5 1325 V1500 M1018.5 1325 V1500 M1029.5 1325 V1500 M1039.5 1325 V1500 M1060.5 1325 V1500 M1071.5 1325 V1500 M1081.5 1325 V1500 M1092.5 1325 V1500 M1113.5 1325 V1500 M1123.5 1325 V1500 M1134.5 1325 V1500 M1144.5 1325 V1500" stroke="#f2f2f2" stroke-width="1" stroke-dasharray="6 6" stroke-dashoffset="1" fill="none" shape-rendering="crispEdges"/>
<path d="M105.5 1325 V1500 M157.5 1325 V1500 M210.5 1325 V1500 M262.5 1325 V1500 M315.5 1325 V1500 M367.5 1325 V1500 M420.5 1325 V1500 M472.5 1325 V1500 M525.5 1325 V1500 M577.5 1325 V1500 M630.5 1325 V1500 M682.5 1325 V1500 M735.5 1325 V1500 M787.5 1325 V1500 M840.5 1325 V1500 M892.5 1325 V1500 M945.5 1325 V1500 M997.5 1325 V1500 M1050.5 1325 V1500 M1102.5 1325 V1500" stroke="#e0e0e0" stroke-width="1" stroke-dasharray="4 4" stroke-dashoffset="1" fill="none" shape-rendering="crispEdges"/>
<path d="M103 1325.5 H1151 M103 1346.5 H1151 M103 1368.5 H1151 M103 1390.5 H1151 M103 1412.5 H1151 M103 1434.5 H1151 M103 1456.5 H1151 M103 1478.5 H1151" stroke="#e0e0e0" stroke-width="1" stroke-dasharray="4 4" stroke-dashoffset="4" fill="none" shape-rendering="crispEdges"/>
<defs><clipPath id="ca"><rect x="100" y="1300" width="1060" height="113"/></clipPath><clipPath id="cb"><rect x="100" y="1413" width="1060" height="100"/></clipPath></defs>
<path d="M105.00 1417.50 C106.75 1414.38 112.00 1402.67 115.50 1398.75 C119.00 1394.83 122.50 1394.75 126.00 1394.00 C129.50 1393.25 133.00 1392.21 136.50 1394.25 C140.00 1396.29 143.50 1402.88 147.00 1406.25 C150.50 1409.62 154.00 1412.92 157.50 1414.50 C161.00 1416.08 164.50 1417.00 168.00 1415.75 C171.50 1414.50 175.00 1408.38 178.50 1407.00 C182.00 1405.62 185.50 1405.54 189.00 1407.50 C192.50 1409.46 196.00 1415.54 199.50 1418.75 C203.00 1421.96 206.50 1425.71 210.00 1426.75 C213.50 1427.79 217.00 1429.46 220.50 1425.00 C224.00 1420.54 227.50 1407.50 231.00 1400.00 C234.50 1392.50 238.00 1386.88 241.50 1380.00 C245.00 1373.12 248.50 1364.17 252.00 1358.75 C255.50 1353.33 259.00 1350.00 262.50 1347.50 C266.00 1345.00 269.50 1345.00 273.00 1343.75 C276.50 1342.50 280.00 1341.58 283.50 1340.00 C287.00 1338.42 290.50 1334.88 294.00 1334.25 C297.50 1333.62 301.00 1334.67 304.50 1336.25 C308.00 1337.83 311.50 1340.42 315.00 1343.75 C318.50 1347.08 322.00 1352.79 325.50 1356.25 C329.00 1359.71 332.50 1362.21 336.00 1364.50 C339.50 1366.79 343.00 1367.62 346.50 1370.00 C350.00 1372.38 353.50 1375.83 357.00 1378.75 C360.50 1381.67 364.00 1385.21 367.50 1387.50 C371.00 1389.79 374.50 1388.75 378.00 1392.50 C381.50 1396.25 385.00 1405.92 388.50 1410.00 C392.00 1414.08 395.50 1414.42 399.00 1417.00 C402.50 1419.58 406.00 1424.08 409.50 1425.50 C413.00 1426.92 416.50 1426.21 420.00 1425.50 C423.50 1424.79 427.00 1423.08 430.50 1421.25 C434.00 1419.42 437.50 1417.21 441.00 1414.50 C444.50 1411.79 448.00 1407.21 451.50 1405.00 C455.00 1402.79 458.50 1400.54 462.00 1401.25 C465.50 1401.96 469.00 1406.75 472.50 1409.25 C476.00 1411.75 479.50 1413.42 483.00 1416.25 C486.50 1419.08 490.00 1423.33 493.50 1426.25 C497.00 1429.17 500.50 1431.67 504.00 1433.75 C507.50 1435.83 511.00 1437.21 514.50 1438.75 C518.00 1440.29 521.50 1440.50 525.00 1443.00 C528.50 1445.50 532.00 1448.96 535.50 1453.75 C539.00 1458.54 542.50 1467.58 546.00 1471.75 C549.50 1475.92 553.00 1479.46 556.50 1478.75 C560.00 1478.04 563.50 1471.88 567.00 1467.50 C570.50 1463.12 574.00 1464.58 577.50 1452.50 C581.00 1440.42 584.50 1409.67 588.00 1395.00 C591.50 1380.33 595.00 1370.96 598.50 1364.50 C602.00 1358.04 605.50 1356.88 609.00 1356.25 C612.50 1355.62 616.00 1359.29 619.50 1360.75 C623.00 1362.21 626.50 1365.21 630.00 1365.00 C633.50 1364.79 637.00 1361.67 640.50 1359.50 C644.00 1357.33 647.50 1356.08 651.00 1352.00 C654.50 1347.92 658.00 1335.42 661.50 1335.00 C665.00 1334.58 668.50 1342.83 672.00 1349.50 C675.50 1356.17 679.00 1367.00 682.50 1375.00 C686.00 1383.00 689.50 1391.04 693.00 1397.50 C696.50 1403.96 700.00 1407.92 703.50 1413.75 C707.00 1419.58 710.50 1427.50 714.00 1432.50 C717.50 1437.50 721.00 1441.33 724.50 1443.75 C728.00 1446.17 731.50 1445.12 735.00 1447.00 C738.50 1448.88 742.00 1451.38 745.50 1455.00 C749.00 1458.62 752.50 1464.71 756.00 1468.75 C759.50 1472.79 763.00 1477.50 766.50 1479.25 C770.00 1481.00 773.50 1479.75 777.00 1479.25 C780.50 1478.75 784.00 1478.83 787.50 1476.25 C791.00 1473.67 794.50 1467.08 798.00 1463.75 C801.50 1460.42 805.00 1458.04 808.50 1456.25 C812.00 1454.46 815.50 1453.71 819.00 1453.00 C822.50 1452.29 826.00 1453.25 829.50 1452.00 C833.00 1450.75 836.50 1446.88 840.00 1445.50 C843.50 1444.12 847.00 1444.46 850.50 1443.75 C854.00 1443.04 857.50 1442.79 861.00 1441.25 C864.50 1439.71 868.00 1436.88 871.50 1434.50 C875.00 1432.12 878.50 1428.79 882.00 1427.00 C885.50 1425.21 889.00 1423.67 892.50 1423.75 C896.00 1423.83 899.50 1426.46 903.00 1427.50 C906.50 1428.54 910.00 1430.75 913.50 1430.00 C917.00 1429.25 920.50 1426.00 924.00 1423.00 C927.50 1420.00 931.00 1415.38 934.50 1412.00 C938.00 1408.62 941.50 1405.33 945.00 1402.75 C948.50 1400.17 952.00 1397.79 955.50 1396.50 C959.00 1395.21 962.50 1394.75 966.00 1395.00 C969.50 1395.25 973.00 1398.62 976.50 1398.00 C980.00 1397.38 983.50 1393.12 987.00 1391.25 C990.50 1389.38 994.00 1387.67 997.50 1386.75 C1001.00 1385.83 1004.50 1384.58 1008.00 1385.75 C1011.50 1386.92 1015.00 1391.04 1018.50 1393.75 C1022.00 1396.46 1025.50 1399.83 1029.00 1402.00 C1032.50 1404.17 1036.00 1405.04 1039.50 1406.75 C1043.00 1408.46 1046.50 1412.12 1050.00 1412.25 C1053.50 1412.38 1057.00 1408.50 1060.50 1407.50 C1064.00 1406.50 1067.50 1405.58 1071.00 1406.25 C1074.50 1406.92 1078.00 1413.17 1081.50 1411.50 C1085.00 1409.83 1088.50 1400.04 1092.00 1396.25 C1095.50 1392.46 1099.00 1390.96 1102.50 1388.75 C1106.00 1386.54 1109.50 1385.08 1113.00 1383.00 C1116.50 1380.92 1120.00 1378.50 1123.50 1376.25 C1127.00 1374.00 1130.50 1371.58 1134.00 1369.50 C1137.50 1367.42 1142.75 1364.71 1144.50 1363.75 L1144.5 1413 L105 1413 Z" fill="rgba(0,255,0,0.40)" clip-path="url(#ca)" shape-rendering="crispEdges"/>
<path d="M105.00 1417.50 C106.75 1414.38 112.00 1402.67 115.50 1398.75 C119.00 1394.83 122.50 1394.75 126.00 1394.00 C129.50 1393.25 133.00 1392.21 136.50 1394.25 C140.00 1396.29 143.50 1402.88 147.00 1406.25 C150.50 1409.62 154.00 1412.92 157.50 1414.50 C161.00 1416.08 164.50 1417.00 168.00 1415.75 C171.50 1414.50 175.00 1408.38 178.50 1407.00 C182.00 1405.62 185.50 1405.54 189.00 1407.50 C192.50 1409.46 196.00 1415.54 199.50 1418.75 C203.00 1421.96 206.50 1425.71 210.00 1426.75 C213.50 1427.79 217.00 1429.46 220.50 1425.00 C224.00 1420.54 227.50 1407.50 231.00 1400.00 C234.50 1392.50 238.00 1386.88 241.50 1380.00 C245.00 1373.12 248.50 1364.17 252.00 1358.75 C255.50 1353.33 259.00 1350.00 262.50 1347.50 C266.00 1345.00 269.50 1345.00 273.00 1343.75 C276.50 1342.50 280.00 1341.58 283.50 1340.00 C287.00 1338.42 290.50 1334.88 294.00 1334.25 C297.50 1333.62 301.00 1334.67 304.50 1336.25 C308.00 1337.83 311.50 1340.42 315.00 1343.75 C318.50 1347.08 322.00 1352.79 325.50 1356.25 C329.00 1359.71 332.50 1362.21 336.00 1364.50 C339.50 1366.79 343.00 1367.62 346.50 1370.00 C350.00 1372.38 353.50 1375.83 357.00 1378.75 C360.50 1381.67 364.00 1385.21 367.50 1387.50 C371.00 1389.79 374.50 1388.75 378.00 1392.50 C381.50 1396.25 385.00 1405.92 388.50 1410.00 C392.00 1414.08 395.50 1414.42 399.00 1417.00 C402.50 1419.58 406.00 1424.08 409.50 1425.50 C413.00 1426.92 416.50 1426.21 420.00 1425.50 C423.50 1424.79 427.00 1423.08 430.50 1421.25 C434.00 1419.42 437.50 1417.21 441.00 1414.50 C444.50 1411.79 448.00 1407.21 451.50 1405.00 C455.00 1402.79 458.50 1400.54 462.00 1401.25 C465.50 1401.96 469.00 1406.75 472.50 1409.25 C476.00 1411.75 479.50 1413.42 483.00 1416.25 C486.50 1419.08 490.00 1423.33 493.50 1426.25 C497.00 1429.17 500.50 1431.67 504.00 1433.75 C507.50 1435.83 511.00 1437.21 514.50 1438.75 C518.00 1440.29 521.50 1440.50 525.00 1443.00 C528.50 1445.50 532.00 1448.96 535.50 1453.75 C539.00 1458.54 542.50 1467.58 546.00 1471.75 C549.50 1475.92 553.00 1479.46 556.50 1478.75 C560.00 1478.04 563.50 1471.88 567.00 1467.50 C570.50 1463.12 574.00 1464.58 577.50 1452.50 C581.00 1440.42 584.50 1409.67 588.00 1395.00 C591.50 1380.33 595.00 1370.96 598.50 1364.50 C602.00 1358.04 605.50 1356.88 609.00 1356.25 C612.50 1355.62 616.00 1359.29 619.50 1360.75 C623.00 1362.21 626.50 1365.21 630.00 1365.00 C633.50 1364.79 637.00 1361.67 640.50 1359.50 C644.00 1357.33 647.50 1356.08 651.00 1352.00 C654.50 1347.92 658.00 1335.42 661.50 1335.00 C665.00 1334.58 668.50 1342.83 672.00 1349.50 C675.50 1356.17 679.00 1367.00 682.50 1375.00 C686.00 1383.00 689.50 1391.04 693.00 1397.50 C696.50 1403.96 700.00 1407.92 703.50 1413.75 C707.00 1419.58 710.50 1427.50 714.00 1432.50 C717.50 1437.50 721.00 1441.33 724.50 1443.75 C728.00 1446.17 731.50 1445.12 735.00 1447.00 C738.50 1448.88 742.00 1451.38 745.50 1455.00 C749.00 1458.62 752.50 1464.71 756.00 1468.75 C759.50 1472.79 763.00 1477.50 766.50 1479.25 C770.00 1481.00 773.50 1479.75 777.00 1479.25 C780.50 1478.75 784.00 1478.83 787.50 1476.25 C791.00 1473.67 794.50 1467.08 798.00 1463.75 C801.50 1460.42 805.00 1458.04 808.50 1456.25 C812.00 1454.46 815.50 1453.71 819.00 1453.00 C822.50 1452.29 826.00 1453.25 829.50 1452.00 C833.00 1450.75 836.50 1446.88 840.00 1445.50 C843.50 1444.12 847.00 1444.46 850.50 1443.75 C854.00 1443.04 857.50 1442.79 861.00 1441.25 C864.50 1439.71 868.00 1436.88 871.50 1434.50 C875.00 1432.12 878.50 1428.79 882.00 1427.00 C885.50 1425.21 889.00 1423.67 892.50 1423.75 C896.00 1423.83 899.50 1426.46 903.00 1427.50 C906.50 1428.54 910.00 1430.75 913.50 1430.00 C917.00 1429.25 920.50 1426.00 924.00 1423.00 C927.50 1420.00 931.00 1415.38 934.50 1412.00 C938.00 1408.62 941.50 1405.33 945.00 1402.75 C948.50 1400.17 952.00 1397.79 955.50 1396.50 C959.00 1395.21 962.50 1394.75 966.00 1395.00 C969.50 1395.25 973.00 1398.62 976.50 1398.00 C980.00 1397.38 983.50 1393.12 987.00 1391.25 C990.50 1389.38 994.00 1387.67 997.50 1386.75 C1001.00 1385.83 1004.50 1384.58 1008.00 1385.75 C1011.50 1386.92 1015.00 1391.04 1018.50 1393.75 C1022.00 1396.46 1025.50 1399.83 1029.00 1402.00 C1032.50 1404.17 1036.00 1405.04 1039.50 1406.75 C1043.00 1408.46 1046.50 1412.12 1050.00 1412.25 C1053.50 1412.38 1057.00 1408.50 1060.50 1407.50 C1064.00 1406.50 1067.50 1405.58 1071.00 1406.25 C1074.50 1406.92 1078.00 1413.17 1081.50 1411.50 C1085.00 1409.83 1088.50 1400.04 1092.00 1396.25 C1095.50 1392.46 1099.00 1390.96 1102.50 1388.75 C1106.00 1386.54 1109.50 1385.08 1113.00 1383.00 C1116.50 1380.92 1120.00 1378.50 1123.50 1376.25 C1127.00 1374.00 1130.50 1371.58 1134.00 1369.50 C1137.50 1367.42 1142.75 1364.71 1144.50 1363.75 L1144.5 1413 L105 1413 Z" fill="rgba(255,0,0,0.40)" clip-path="url(#cb)" shape-rendering="crispEdges"/>
<g shape-rendering="crispEdges" fill="#000">
<rect x="100" y="1315" width="1" height="186" fill="#1c1c1c"/>
<rect x="100" y="1500" width="1063" height="1" fill="#1c1c1c"/>
<rect x="98" y="1325" width="5" height="1"/>
<rect x="98" y="1346" width="5" height="1"/>
<rect x="98" y="1368" width="5" height="1"/>
<rect x="98" y="1390" width="5" height="1"/>
<rect x="98" y="1412" width="5" height="1"/>
<rect x="98" y="1434" width="5" height="1"/>
<rect x="98" y="1456" width="5" height="1"/>
<rect x="98" y="1478" width="5" height="1"/>
<rect x="98" y="1500" width="5" height="1"/>
<rect x="98" y="1335" width="3" height="1" fill="#f00"/>
<rect x="98" y="1357" width="3" height="1" fill="#f00"/>
<rect x="98" y="1379" width="3" height="1" fill="#f00"/>
<rect x="98" y="1401" width="3" height="1" fill="#f00"/>
<rect x="98" y="1423" width="3" height="1" fill="#f00"/>
<rect x="98" y="1445" width="3" height="1" fill="#f00"/>
<rect x="98" y="1467" width="3" height="1" fill="#f00"/>
<rect x="98" y="1489" width="3" height="1" fill="#f00"/>
<rect x="105" y="1498" width="1" height="5"/>
<rect x="115" y="1501" width="1" height="2" fill="#ddd"/>
<rect x="126" y="1501" width="1" height="2" fill="#ddd"/>
<rect x="136" y="1501" width="1" height="2" fill="#ddd"/>
<rect x="147" y="1501" width="1" height="2" fill="#ddd"/>
<rect x="157" y="1498" width="1" height="5"/>
<rect x="168" y="1501" width="1" height="2" fill="#ddd"/>
<rect x="178" y="1501" width="1" height="2" fill="#ddd"/>
<rect x="189" y="1501" width="1" height="2" fill="#ddd"/>
<rect x="199" y="1501" width="1" height="2" fill="#ddd"/>
<rect x="210" y="1498" width="1" height="5"/>
<rect x="220" y="1501" width="1" height="2" fill="#ddd"/>
<rect x="231" y="1501" width="1" height="2" fill="#ddd"/>
<rect x="241" y="1501" width="1" height="2" fill="#ddd"/>
<rect x="252" y="1501" width="1" height="2" fill="#ddd"/>
<rect x="262" y="1498" width="1" height="5"/>
<rect x="273" y="1501" width="1" height="2" fill="#ddd"/>
<rect x="283" y="1501" width="1" height="2" fill="#ddd"/>
<rect x="294" y="1501" width="1" height="2" fill="#ddd"/>
<rect x="304" y="1501" width="1" height="2" fill="#ddd"/>
<rect x="315" y="1498" width="1" height="5"/>
<rect x="325" y="1501" width="1" height="2" fill="#ddd"/>
<rect x="336" y="1501" width="1" height="2" fill="#ddd"/>
<rect x="346" y="1501" width="1" height="2" fill="#ddd"/>
<rect x="357" y="1501" width="1" height="2" fill="#ddd"/>
<rect x="367" y="1498" width="1" height="5"/>
<rect x="378" y="1501" width="1" height="2" fill="#ddd"/>
<rect x="388" y="1501" width="1" height="2" fill="#ddd"/>
<rect x="399" y="1501" width="1" height="2" fill="#ddd"/>
<rect x="409" y="1501" width="1" height="2" fill="#ddd"/>
<rect x="420" y="1498" width="1" height="5"/>
<rect x="430" y="1501" width="1" height="2" fill="#ddd"/>
<rect x="441" y="1501" width="1" height="2" fill="#ddd"/>
<rect x="451" y="1501" width="1" height="2" fill="#ddd"/>
<rect x="462" y="1501" width="1" height="2" fill="#ddd"/>
<rect x="472" y="1498" width="1" height="5"/>
<rect x="483" y="1501" width="1" height="2" fill="#ddd"/>
<rect x="493" y="1501" width="1" height="2" fill="#ddd"/>
<rect x="504" y="1501" width="1" height="2" fill="#ddd"/>
<rect x="514" y="1501" width="1" height="2" fill="#ddd"/>
<rect x="525" y="1498" width="1" height="5"/>
<rect x="535" y="1501" width="1" height="2" fill="#ddd"/>
<rect x="546" y="1501" width="1" height="2" fill="#ddd"/>
<rect x="556" y="1501" width="1" height="2" fill="#ddd"/>
<rect x="567" y="1501" width="1" height="2" fill="#ddd"/>
<rect x="577" y="1498" width="1" height="5"/>
<rect x="588" y="1501" width="1" height="2" fill="#ddd"/>
<rect x="598" y="1501" width="1" height="2" fill="#ddd"/>
<rect x="609" y="1501" width="1" height="2" fill="#ddd"/>
<rect x="619" y="1501" width="1" height="2" fill="#ddd"/>
<rect x="630" y="1498" width="1" height="5"/>
<rect x="640" y="1501" width="1" height="2" fill="#ddd"/>
<rect x="651" y="1501" width="1" height="2" fill="#ddd"/>
<rect x="661" y="1501" width="1" height="2" fill="#ddd"/>
<rect x="672" y="1501" width="1" height="2" fill="#ddd"/>
<rect x="682" y="1498" width="1" height="5"/>
<rect x="693" y="1501" width="1" height="2" fill="#ddd"/>
<rect x="703" y="1501" width="1" height="2" fill="#ddd"/>
<rect x="714" y="1501" width="1" height="2" fill="#ddd"/>
<rect x="724" y="1501" width="1" height="2" fill="#ddd"/>
<rect x="735" y="1498" width="1" height="5"/>
<rect x="745" y="1501" width="1" height="2" fill="#ddd"/>
<rect x="756" y="1501" width="1" height="2" fill="#ddd"/>
<rect x="766" y="1501" width="1" height="2" fill="#ddd"/>
<rect x="777" y="1501" width="1" height="2" fill="#ddd"/>
<rect x="787" y="1498" width="1" height="5"/>
<rect x="798" y="1501" width="1" height="2" fill="#ddd"/>
<rect x="808" y="1501" width="1" height="2" fill="#ddd"/>
<rect x="819" y="1501" width="1" height="2" fill="#ddd"/>
<rect x="829" y="1501" width="1" height="2" fill="#ddd"/>
<rect x="840" y="1498" width="1" height="5"/>
<rect x="850" y="1501" width="1" height="2" fill="#ddd"/>
<rect x="861" y="1501" width="1" height="2" fill="#ddd"/>
<rect x="871" y="1501" width="1" height="2" fill="#ddd"/>
<rect x="882" y="1501" width="1" height="2" fill="#ddd"/>
<rect x="892" y="1498" width="1" height="5"/>
<rect x="903" y="1501" width="1" height="2" fill="#ddd"/>
<rect x="913" y="1501" width="1" height="2" fill="#ddd"/>
<rect x="924" y="1501" width="1" height="2" fill="#ddd"/>
<rect x="934" y="1501" width="1" height="2" fill="#ddd"/>
<rect x="945" y="1498" width="1" height="5"/>
<rect x="955" y="1501" width="1" height="2" fill="#ddd"/>
<rect x="966" y="1501" width="1" height="2" fill="#ddd"/>
<rect x="976" y="1501" width="1" height="2" fill="#ddd"/>
<rect x="987" y="1501" width="1" height="2" fill="#ddd"/>
<rect x="997" y="1498" width="1" height="5"/>
<rect x="1008" y="1501" width="1" height="2" fill="#ddd"/>
<rect x="1018" y="1501" width="1" height="2" fill="#ddd"/>
<rect x="1029" y="1501" width="1" height="2" fill="#ddd"/>
<rect x="1039" y="1501" width="1" height="2" fill="#ddd"/>
<rect x="1050" y="1498" width="1" height="5"/>
<rect x="1060" y="1501" width="1" height="2" fill="#ddd"/>
<rect x="1071" y="1501" width="1" height="2" fill="#ddd"/>
<rect x="1081" y="1501" width="1" height="2" fill="#ddd"/>
<rect x="1092" y="1501" width="1" height="2" fill="#ddd"/>
<rect x="1102" y="1498" width="1" height="5"/>
<rect x="1113" y="1501" width="1" height="2" fill="#ddd"/>
<rect x="1123" y="1501" width="1" height="2" fill="#ddd"/>
<rect x="1134" y="1501" width="1" height="2" fill="#ddd"/>
<rect x="1144" y="1501" width="1" height="2" fill="#ddd"/>
</g>
<path d="M100.5 1312 L104.2 1319.7 H96.8Z" fill="#000"/>
<path d="M1161.8 1500.5 L1155.2 1496.8 V1504.2Z" fill="#000"/>
<text x="94.3" y="1328.7" text-anchor="end" textLength="22.8" lengthAdjust="spacingAndGlyphs">0.20</text>
<text x="94.3" y="1349.7" text-anchor="end" textLength="22.8" lengthAdjust="spacingAndGlyphs">0.15</text>
<text x="94.3" y="1371.7" text-anchor="end" textLength="22.8" lengthAdjust="spacingAndGlyphs">0.10</text>
<text x="94.3" y="1393.7" text-anchor="end" textLength="22.8" lengthAdjust="spacingAndGlyphs">0.05</text>
<text x="94.3" y="1415.7" text-anchor="end" textLength="22.8" lengthAdjust="spacingAndGlyphs">0.00</text>
<text x="94.3" y="1437.7" text-anchor="end" textLength="26.7" lengthAdjust="spacingAndGlyphs">-0.05</text>
<text x="94.3" y="1459.7" text-anchor="end" textLength="26.7" lengthAdjust="spacingAndGlyphs">-0.10</text>
<text x="94.3" y="1481.7" text-anchor="end" textLength="26.7" lengthAdjust="spacingAndGlyphs">-0.15</text>
<text x="94.3" y="1503.7" text-anchor="end" textLength="26.7" lengthAdjust="spacingAndGlyphs">-0.20</text>
<text x="104.9" y="1513.2" text-anchor="middle" textLength="34.5" lengthAdjust="spacingAndGlyphs">13 Fév</text>
<text x="156.9" y="1513.2" text-anchor="middle" textLength="34.5" lengthAdjust="spacingAndGlyphs">20 Fév</text>
<text x="209.9" y="1513.2" text-anchor="middle" textLength="34.5" lengthAdjust="spacingAndGlyphs">27 Fév</text>
<text x="261.9" y="1513.2" text-anchor="middle" textLength="34.9" lengthAdjust="spacingAndGlyphs">6 Mars</text>
<text x="314.9" y="1513.2" text-anchor="middle" textLength="41.7" lengthAdjust="spacingAndGlyphs">13 Mars</text>
<text x="366.9" y="1513.2" text-anchor="middle" textLength="41.7" lengthAdjust="spacingAndGlyphs">20 Mars</text>
<text x="419.9" y="1513.2" text-anchor="middle" textLength="41.7" lengthAdjust="spacingAndGlyphs">27 Mars</text>
<text x="471.9" y="1513.2" text-anchor="middle" textLength="26.6" lengthAdjust="spacingAndGlyphs">3 Avr</text>
<text x="524.9" y="1513.2" text-anchor="middle" textLength="33.4" lengthAdjust="spacingAndGlyphs">12 Avr</text>
<text x="576.9" y="1513.2" text-anchor="middle" textLength="33.4" lengthAdjust="spacingAndGlyphs">21 Avr</text>
<text x="629.9" y="1513.2" text-anchor="middle" textLength="33.4" lengthAdjust="spacingAndGlyphs">28 Avr</text>
<text x="681.9" y="1513.2" text-anchor="middle" textLength="27.9" lengthAdjust="spacingAndGlyphs">8 Mai</text>
<text x="734.9" y="1513.2" text-anchor="middle" textLength="34.7" lengthAdjust="spacingAndGlyphs">15 Mai</text>
<text x="786.9" y="1513.2" text-anchor="middle" textLength="34.7" lengthAdjust="spacingAndGlyphs">22 Mai</text>
<text x="839.9" y="1513.2" text-anchor="middle" textLength="34.7" lengthAdjust="spacingAndGlyphs">29 Mai</text>
<text x="891.9" y="1513.2" text-anchor="middle" textLength="28.9" lengthAdjust="spacingAndGlyphs">5 Juin</text>
<text x="944.9" y="1513.2" text-anchor="middle" textLength="35.6" lengthAdjust="spacingAndGlyphs">12 Juin</text>
<text x="996.9" y="1513.2" text-anchor="middle" textLength="35.6" lengthAdjust="spacingAndGlyphs">19 Juin</text>
<text x="1049.9" y="1513.2" text-anchor="middle" textLength="35.6" lengthAdjust="spacingAndGlyphs">27 Juin</text>
<text x="1101.9" y="1513.2" text-anchor="middle" textLength="25.1" lengthAdjust="spacingAndGlyphs">4 Juil</text>
<text x="623.5" y="1526.5" text-anchor="middle" textLength="239" lengthAdjust="spacingAndGlyphs">Date (du 13 Février 2017 au 10 Juillet 2017)</text>
<text transform="translate(62.9 1412.5) rotate(-90)" text-anchor="middle" textLength="31.5" lengthAdjust="spacingAndGlyphs">MACD</text>
<rect x="551.3" y="51.2" width="5.6" height="5.6" fill="#d8d8d8"/>
<rect x="550.3" y="50.2" width="5.6" height="5.6" fill="#cd6066"/>
<text x="559.8" y="54.9" textLength="51.4" lengthAdjust="spacingAndGlyphs">Support 1</text>
<rect x="621.3" y="51.2" width="5.6" height="5.6" fill="#d8d8d8"/>
<rect x="620.3" y="50.2" width="5.6" height="5.6" fill="#b4646a"/>
<text x="629.8" y="54.9" textLength="51.4" lengthAdjust="spacingAndGlyphs">Support 2</text>
<rect x="691.3" y="51.2" width="5.6" height="5.6" fill="#d8d8d8"/>
<rect x="690.3" y="50.2" width="5.6" height="5.6" fill="#9b6468"/>
<text x="699.8" y="54.9" textLength="51.4" lengthAdjust="spacingAndGlyphs">Support 3</text>
<rect x="761.3" y="51.2" width="5.6" height="5.6" fill="#d8d8d8"/>
<rect x="760.3" y="50.2" width="5.6" height="5.6" fill="#66cc66"/>
<text x="769.5" y="56.6" textLength="65.5" lengthAdjust="spacingAndGlyphs">Résistance 1</text>
<rect x="845.3" y="51.2" width="5.6" height="5.6" fill="#d8d8d8"/>
<rect x="844.3" y="50.2" width="5.6" height="5.6" fill="#66aa66"/>
<text x="853.3" y="56.6" textLength="66.0" lengthAdjust="spacingAndGlyphs">Résistance 2</text>
<rect x="929.5" y="51.2" width="5.6" height="5.6" fill="#d8d8d8"/>
<rect x="928.5" y="50.2" width="5.6" height="5.6" fill="#6666ff"/>
<text x="937.5" y="54.9" textLength="30.0" lengthAdjust="spacingAndGlyphs">MM20</text>
<rect x="977.3" y="51.2" width="5.6" height="5.6" fill="#d8d8d8"/>
<rect x="976.3" y="50.2" width="5.6" height="5.6" fill="#b266ff"/>
<text x="985.5" y="54.9" textLength="29.5" lengthAdjust="spacingAndGlyphs">MM50</text>
<rect x="1025.5" y="51.2" width="5.6" height="5.6" fill="#d8d8d8"/>
<rect x="1024.5" y="50.2" width="5.6" height="5.6" fill="#ff66ff"/>
<text x="1033.8" y="54.9" textLength="36.2" lengthAdjust="spacingAndGlyphs">MM100</text>
</svg></body></html>
